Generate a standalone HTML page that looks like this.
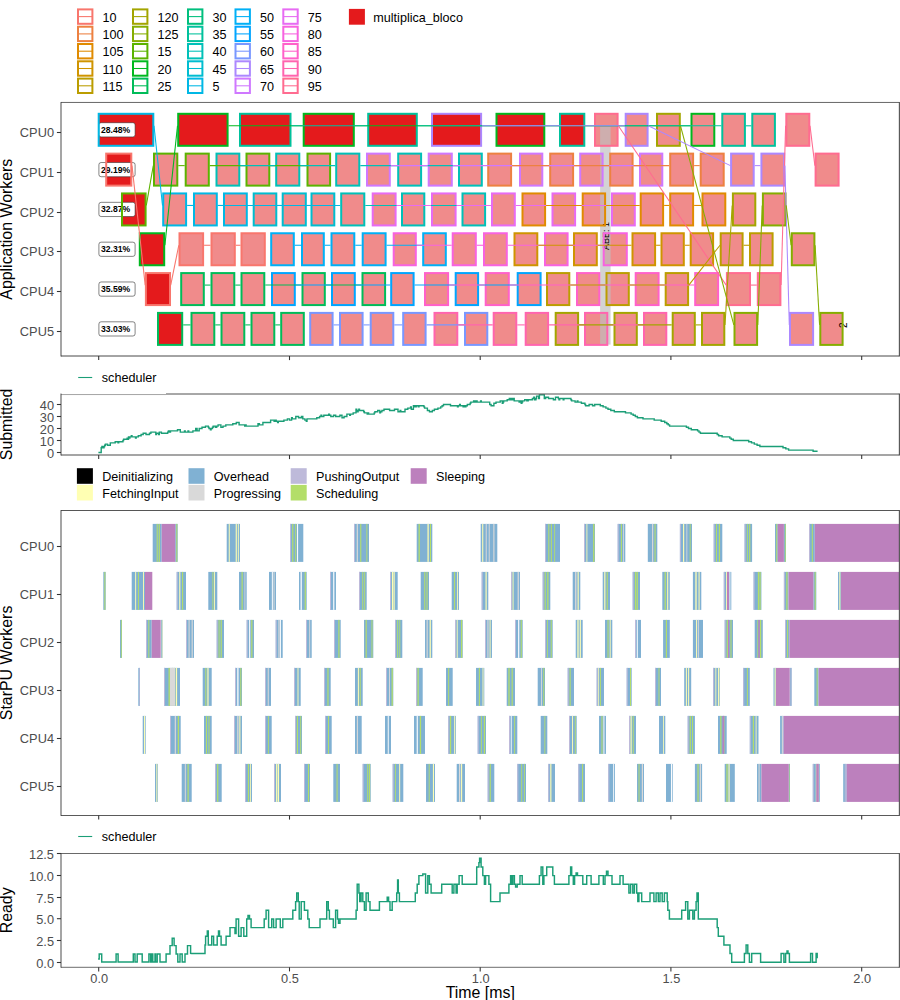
<!DOCTYPE html>
<html><head><meta charset="utf-8"><style>
html,body{margin:0;padding:0;background:#fff;width:900px;height:1000px;overflow:hidden;}
svg{display:block;}
text{font-family:"Liberation Sans",sans-serif;}
</style></head><body>
<svg width="900" height="1000" viewBox="0 0 900 1000" font-family="Liberation Sans, sans-serif">
<rect width="900" height="1000" fill="#fff"/>
<rect x="78.00" y="9.40" width="14.40" height="14.40" fill="#fff" stroke="#F8766D" stroke-width="2"/>
<line x1="78.00" y1="16.60" x2="92.40" y2="16.60" stroke="#F8766D" stroke-width="1.07"/>
<text x="102.4" y="21.7" font-size="12.6" fill="#000">10</text>
<rect x="78.00" y="26.70" width="14.40" height="14.40" fill="#fff" stroke="#ED8141" stroke-width="2"/>
<line x1="78.00" y1="33.90" x2="92.40" y2="33.90" stroke="#ED8141" stroke-width="1.07"/>
<text x="102.4" y="39.0" font-size="12.6" fill="#000">100</text>
<rect x="78.00" y="44.00" width="14.40" height="14.40" fill="#fff" stroke="#E08B00" stroke-width="2"/>
<line x1="78.00" y1="51.20" x2="92.40" y2="51.20" stroke="#E08B00" stroke-width="1.07"/>
<text x="102.4" y="56.3" font-size="12.6" fill="#000">105</text>
<rect x="78.00" y="61.30" width="14.40" height="14.40" fill="#fff" stroke="#CF9400" stroke-width="2"/>
<line x1="78.00" y1="68.50" x2="92.40" y2="68.50" stroke="#CF9400" stroke-width="1.07"/>
<text x="102.4" y="73.6" font-size="12.6" fill="#000">110</text>
<rect x="78.00" y="78.60" width="14.40" height="14.40" fill="#fff" stroke="#BB9D00" stroke-width="2"/>
<line x1="78.00" y1="85.80" x2="92.40" y2="85.80" stroke="#BB9D00" stroke-width="1.07"/>
<text x="102.4" y="90.9" font-size="12.6" fill="#000">115</text>
<rect x="133.00" y="9.40" width="14.40" height="14.40" fill="#fff" stroke="#A3A500" stroke-width="2"/>
<line x1="133.00" y1="16.60" x2="147.40" y2="16.60" stroke="#A3A500" stroke-width="1.07"/>
<text x="157.4" y="21.7" font-size="12.6" fill="#000">120</text>
<rect x="133.00" y="26.70" width="14.40" height="14.40" fill="#fff" stroke="#85AD00" stroke-width="2"/>
<line x1="133.00" y1="33.90" x2="147.40" y2="33.90" stroke="#85AD00" stroke-width="1.07"/>
<text x="157.4" y="39.0" font-size="12.6" fill="#000">125</text>
<rect x="133.00" y="44.00" width="14.40" height="14.40" fill="#fff" stroke="#5BB300" stroke-width="2"/>
<line x1="133.00" y1="51.20" x2="147.40" y2="51.20" stroke="#5BB300" stroke-width="1.07"/>
<text x="157.4" y="56.3" font-size="12.6" fill="#000">15</text>
<rect x="133.00" y="61.30" width="14.40" height="14.40" fill="#fff" stroke="#00B81F" stroke-width="2"/>
<line x1="133.00" y1="68.50" x2="147.40" y2="68.50" stroke="#00B81F" stroke-width="1.07"/>
<text x="157.4" y="73.6" font-size="12.6" fill="#000">20</text>
<rect x="133.00" y="78.60" width="14.40" height="14.40" fill="#fff" stroke="#00BC59" stroke-width="2"/>
<line x1="133.00" y1="85.80" x2="147.40" y2="85.80" stroke="#00BC59" stroke-width="1.07"/>
<text x="157.4" y="90.9" font-size="12.6" fill="#000">25</text>
<rect x="188.00" y="9.40" width="14.40" height="14.40" fill="#fff" stroke="#00BF7D" stroke-width="2"/>
<line x1="188.00" y1="16.60" x2="202.40" y2="16.60" stroke="#00BF7D" stroke-width="1.07"/>
<text x="212.4" y="21.7" font-size="12.6" fill="#000">30</text>
<rect x="188.00" y="26.70" width="14.40" height="14.40" fill="#fff" stroke="#00C19C" stroke-width="2"/>
<line x1="188.00" y1="33.90" x2="202.40" y2="33.90" stroke="#00C19C" stroke-width="1.07"/>
<text x="212.4" y="39.0" font-size="12.6" fill="#000">35</text>
<rect x="188.00" y="44.00" width="14.40" height="14.40" fill="#fff" stroke="#00C0B8" stroke-width="2"/>
<line x1="188.00" y1="51.20" x2="202.40" y2="51.20" stroke="#00C0B8" stroke-width="1.07"/>
<text x="212.4" y="56.3" font-size="12.6" fill="#000">40</text>
<rect x="188.00" y="61.30" width="14.40" height="14.40" fill="#fff" stroke="#00BDD0" stroke-width="2"/>
<line x1="188.00" y1="68.50" x2="202.40" y2="68.50" stroke="#00BDD0" stroke-width="1.07"/>
<text x="212.4" y="73.6" font-size="12.6" fill="#000">45</text>
<rect x="188.00" y="78.60" width="14.40" height="14.40" fill="#fff" stroke="#00B8E5" stroke-width="2"/>
<line x1="188.00" y1="85.80" x2="202.40" y2="85.80" stroke="#00B8E5" stroke-width="1.07"/>
<text x="212.4" y="90.9" font-size="12.6" fill="#000">5</text>
<rect x="235.50" y="9.40" width="14.40" height="14.40" fill="#fff" stroke="#00B0F6" stroke-width="2"/>
<line x1="235.50" y1="16.60" x2="249.90" y2="16.60" stroke="#00B0F6" stroke-width="1.07"/>
<text x="259.9" y="21.7" font-size="12.6" fill="#000">50</text>
<rect x="235.50" y="26.70" width="14.40" height="14.40" fill="#fff" stroke="#00A5FF" stroke-width="2"/>
<line x1="235.50" y1="33.90" x2="249.90" y2="33.90" stroke="#00A5FF" stroke-width="1.07"/>
<text x="259.9" y="39.0" font-size="12.6" fill="#000">55</text>
<rect x="235.50" y="44.00" width="14.40" height="14.40" fill="#fff" stroke="#7997FF" stroke-width="2"/>
<line x1="235.50" y1="51.20" x2="249.90" y2="51.20" stroke="#7997FF" stroke-width="1.07"/>
<text x="259.9" y="56.3" font-size="12.6" fill="#000">60</text>
<rect x="235.50" y="61.30" width="14.40" height="14.40" fill="#fff" stroke="#AC88FF" stroke-width="2"/>
<line x1="235.50" y1="68.50" x2="249.90" y2="68.50" stroke="#AC88FF" stroke-width="1.07"/>
<text x="259.9" y="73.6" font-size="12.6" fill="#000">65</text>
<rect x="235.50" y="78.60" width="14.40" height="14.40" fill="#fff" stroke="#CF78FF" stroke-width="2"/>
<line x1="235.50" y1="85.80" x2="249.90" y2="85.80" stroke="#CF78FF" stroke-width="1.07"/>
<text x="259.9" y="90.9" font-size="12.6" fill="#000">70</text>
<rect x="283.30" y="9.40" width="14.40" height="14.40" fill="#fff" stroke="#E76BF3" stroke-width="2"/>
<line x1="283.30" y1="16.60" x2="297.70" y2="16.60" stroke="#E76BF3" stroke-width="1.07"/>
<text x="307.7" y="21.7" font-size="12.6" fill="#000">75</text>
<rect x="283.30" y="26.70" width="14.40" height="14.40" fill="#fff" stroke="#F763E0" stroke-width="2"/>
<line x1="283.30" y1="33.90" x2="297.70" y2="33.90" stroke="#F763E0" stroke-width="1.07"/>
<text x="307.7" y="39.0" font-size="12.6" fill="#000">80</text>
<rect x="283.30" y="44.00" width="14.40" height="14.40" fill="#fff" stroke="#FF61C9" stroke-width="2"/>
<line x1="283.30" y1="51.20" x2="297.70" y2="51.20" stroke="#FF61C9" stroke-width="1.07"/>
<text x="307.7" y="56.3" font-size="12.6" fill="#000">85</text>
<rect x="283.30" y="61.30" width="14.40" height="14.40" fill="#fff" stroke="#FF65AE" stroke-width="2"/>
<line x1="283.30" y1="68.50" x2="297.70" y2="68.50" stroke="#FF65AE" stroke-width="1.07"/>
<text x="307.7" y="73.6" font-size="12.6" fill="#000">90</text>
<rect x="283.30" y="78.60" width="14.40" height="14.40" fill="#fff" stroke="#FF6C90" stroke-width="2"/>
<line x1="283.30" y1="85.80" x2="297.70" y2="85.80" stroke="#FF6C90" stroke-width="1.07"/>
<text x="307.7" y="90.9" font-size="12.6" fill="#000">95</text>
<rect x="348.9" y="8.9" width="16" height="15.8" fill="#E41A1C"/>
<text x="373.3" y="21.7" font-size="12.6" fill="#000">multiplica_bloco</text>
<rect x="98.70" y="113.80" width="54.60" height="32.00" fill="#E41A1C"/>
<rect x="178.20" y="113.80" width="49.40" height="32.00" fill="#E41A1C"/>
<rect x="240.00" y="113.80" width="50.50" height="32.00" fill="#E41A1C"/>
<rect x="303.70" y="113.80" width="50.10" height="32.00" fill="#E41A1C"/>
<rect x="368.20" y="113.80" width="48.60" height="32.00" fill="#E41A1C"/>
<rect x="432.00" y="113.80" width="49.10" height="32.00" fill="#E41A1C"/>
<rect x="496.50" y="113.80" width="47.80" height="32.00" fill="#E41A1C"/>
<rect x="560.00" y="113.80" width="24.30" height="32.00" fill="#E41A1C"/>
<rect x="595.00" y="113.80" width="22.60" height="32.00" fill="#F08B8B"/>
<rect x="625.70" y="113.80" width="21.90" height="32.00" fill="#F08B8B"/>
<rect x="657.00" y="113.80" width="22.80" height="32.00" fill="#F08B8B"/>
<rect x="691.50" y="113.80" width="22.80" height="32.00" fill="#F08B8B"/>
<rect x="722.30" y="113.80" width="22.60" height="32.00" fill="#F08B8B"/>
<rect x="752.30" y="113.80" width="22.60" height="32.00" fill="#F08B8B"/>
<rect x="786.30" y="113.80" width="23.00" height="32.00" fill="#F08B8B"/>
<rect x="106.20" y="153.62" width="25.10" height="32.00" fill="#E41A1C"/>
<rect x="154.00" y="153.62" width="23.30" height="32.00" fill="#F08B8B"/>
<rect x="185.70" y="153.62" width="23.10" height="32.00" fill="#F08B8B"/>
<rect x="216.50" y="153.62" width="22.80" height="32.00" fill="#F08B8B"/>
<rect x="246.50" y="153.62" width="22.80" height="32.00" fill="#F08B8B"/>
<rect x="276.20" y="153.62" width="23.10" height="32.00" fill="#F08B8B"/>
<rect x="307.50" y="153.62" width="22.60" height="32.00" fill="#F08B8B"/>
<rect x="336.20" y="153.62" width="23.10" height="32.00" fill="#F08B8B"/>
<rect x="367.00" y="153.62" width="22.80" height="32.00" fill="#F08B8B"/>
<rect x="398.20" y="153.62" width="22.90" height="32.00" fill="#F08B8B"/>
<rect x="428.70" y="153.62" width="23.10" height="32.00" fill="#F08B8B"/>
<rect x="459.00" y="153.62" width="22.80" height="32.00" fill="#F08B8B"/>
<rect x="488.20" y="153.62" width="22.90" height="32.00" fill="#F08B8B"/>
<rect x="520.00" y="153.62" width="22.30" height="32.00" fill="#F08B8B"/>
<rect x="550.20" y="153.62" width="22.90" height="32.00" fill="#F08B8B"/>
<rect x="580.20" y="153.62" width="22.40" height="32.00" fill="#F08B8B"/>
<rect x="610.20" y="153.62" width="22.40" height="32.00" fill="#F08B8B"/>
<rect x="640.00" y="153.62" width="22.30" height="32.00" fill="#F08B8B"/>
<rect x="670.20" y="153.62" width="22.90" height="32.00" fill="#F08B8B"/>
<rect x="700.70" y="153.62" width="23.00" height="32.00" fill="#F08B8B"/>
<rect x="731.10" y="153.62" width="22.60" height="32.00" fill="#F08B8B"/>
<rect x="761.40" y="153.62" width="22.80" height="32.00" fill="#F08B8B"/>
<rect x="815.60" y="153.62" width="23.00" height="32.00" fill="#F08B8B"/>
<rect x="122.00" y="193.44" width="23.60" height="32.00" fill="#E41A1C"/>
<rect x="163.20" y="193.44" width="22.90" height="32.00" fill="#F08B8B"/>
<rect x="194.00" y="193.44" width="22.80" height="32.00" fill="#F08B8B"/>
<rect x="224.00" y="193.44" width="22.80" height="32.00" fill="#F08B8B"/>
<rect x="253.70" y="193.44" width="22.60" height="32.00" fill="#F08B8B"/>
<rect x="282.70" y="193.44" width="23.10" height="32.00" fill="#F08B8B"/>
<rect x="311.50" y="193.44" width="22.80" height="32.00" fill="#F08B8B"/>
<rect x="341.20" y="193.44" width="23.10" height="32.00" fill="#F08B8B"/>
<rect x="372.70" y="193.44" width="22.90" height="32.00" fill="#F08B8B"/>
<rect x="402.00" y="193.44" width="22.30" height="32.00" fill="#F08B8B"/>
<rect x="432.00" y="193.44" width="23.60" height="32.00" fill="#F08B8B"/>
<rect x="462.50" y="193.44" width="22.60" height="32.00" fill="#F08B8B"/>
<rect x="492.00" y="193.44" width="22.80" height="32.00" fill="#F08B8B"/>
<rect x="522.50" y="193.44" width="22.60" height="32.00" fill="#F08B8B"/>
<rect x="552.50" y="193.44" width="22.60" height="32.00" fill="#F08B8B"/>
<rect x="582.70" y="193.44" width="22.40" height="32.00" fill="#F08B8B"/>
<rect x="612.00" y="193.44" width="22.80" height="32.00" fill="#F08B8B"/>
<rect x="640.70" y="193.44" width="22.40" height="32.00" fill="#F08B8B"/>
<rect x="670.20" y="193.44" width="22.90" height="32.00" fill="#F08B8B"/>
<rect x="702.50" y="193.44" width="22.80" height="32.00" fill="#F08B8B"/>
<rect x="732.90" y="193.44" width="22.40" height="32.00" fill="#F08B8B"/>
<rect x="762.90" y="193.44" width="22.60" height="32.00" fill="#F08B8B"/>
<rect x="139.80" y="233.26" width="24.40" height="32.00" fill="#E41A1C"/>
<rect x="179.50" y="233.26" width="23.60" height="32.00" fill="#F08B8B"/>
<rect x="211.50" y="233.26" width="23.30" height="32.00" fill="#F08B8B"/>
<rect x="241.50" y="233.26" width="23.30" height="32.00" fill="#F08B8B"/>
<rect x="271.20" y="233.26" width="22.60" height="32.00" fill="#F08B8B"/>
<rect x="302.00" y="233.26" width="21.80" height="32.00" fill="#F08B8B"/>
<rect x="331.50" y="233.26" width="22.80" height="32.00" fill="#F08B8B"/>
<rect x="362.70" y="233.26" width="22.90" height="32.00" fill="#F08B8B"/>
<rect x="393.70" y="233.26" width="22.10" height="32.00" fill="#F08B8B"/>
<rect x="423.20" y="233.26" width="22.60" height="32.00" fill="#F08B8B"/>
<rect x="452.70" y="233.26" width="23.10" height="32.00" fill="#F08B8B"/>
<rect x="484.00" y="233.26" width="22.80" height="32.00" fill="#F08B8B"/>
<rect x="514.50" y="233.26" width="22.80" height="32.00" fill="#F08B8B"/>
<rect x="545.00" y="233.26" width="22.60" height="32.00" fill="#F08B8B"/>
<rect x="574.00" y="233.26" width="22.80" height="32.00" fill="#F08B8B"/>
<rect x="603.70" y="233.26" width="23.10" height="32.00" fill="#F08B8B"/>
<rect x="632.50" y="233.26" width="22.60" height="32.00" fill="#F08B8B"/>
<rect x="661.50" y="233.26" width="22.30" height="32.00" fill="#F08B8B"/>
<rect x="690.70" y="233.26" width="22.40" height="32.00" fill="#F08B8B"/>
<rect x="720.70" y="233.26" width="21.90" height="32.00" fill="#F08B8B"/>
<rect x="750.00" y="233.26" width="22.60" height="32.00" fill="#F08B8B"/>
<rect x="791.80" y="233.26" width="22.60" height="32.00" fill="#F08B8B"/>
<rect x="145.90" y="273.08" width="24.10" height="32.00" fill="#E41A1C"/>
<rect x="181.20" y="273.08" width="22.60" height="32.00" fill="#F08B8B"/>
<rect x="211.50" y="273.08" width="22.80" height="32.00" fill="#F08B8B"/>
<rect x="241.50" y="273.08" width="22.80" height="32.00" fill="#F08B8B"/>
<rect x="272.00" y="273.08" width="22.80" height="32.00" fill="#F08B8B"/>
<rect x="302.50" y="273.08" width="22.30" height="32.00" fill="#F08B8B"/>
<rect x="332.00" y="273.08" width="22.80" height="32.00" fill="#F08B8B"/>
<rect x="362.50" y="273.08" width="22.60" height="32.00" fill="#F08B8B"/>
<rect x="391.20" y="273.08" width="22.40" height="32.00" fill="#F08B8B"/>
<rect x="425.00" y="273.08" width="23.10" height="32.00" fill="#F08B8B"/>
<rect x="455.70" y="273.08" width="22.40" height="32.00" fill="#F08B8B"/>
<rect x="485.70" y="273.08" width="23.10" height="32.00" fill="#F08B8B"/>
<rect x="517.70" y="273.08" width="22.90" height="32.00" fill="#F08B8B"/>
<rect x="547.00" y="273.08" width="22.30" height="32.00" fill="#F08B8B"/>
<rect x="577.00" y="273.08" width="22.30" height="32.00" fill="#F08B8B"/>
<rect x="606.50" y="273.08" width="22.30" height="32.00" fill="#F08B8B"/>
<rect x="635.70" y="273.08" width="22.90" height="32.00" fill="#F08B8B"/>
<rect x="665.70" y="273.08" width="22.40" height="32.00" fill="#F08B8B"/>
<rect x="695.20" y="273.08" width="22.90" height="32.00" fill="#F08B8B"/>
<rect x="726.90" y="273.08" width="23.10" height="32.00" fill="#F08B8B"/>
<rect x="757.80" y="273.08" width="22.60" height="32.00" fill="#F08B8B"/>
<rect x="158.00" y="312.90" width="24.20" height="32.00" fill="#E41A1C"/>
<rect x="191.50" y="312.90" width="22.80" height="32.00" fill="#F08B8B"/>
<rect x="221.50" y="312.90" width="22.80" height="32.00" fill="#F08B8B"/>
<rect x="251.50" y="312.90" width="22.80" height="32.00" fill="#F08B8B"/>
<rect x="281.20" y="312.90" width="22.60" height="32.00" fill="#F08B8B"/>
<rect x="310.20" y="312.90" width="22.40" height="32.00" fill="#F08B8B"/>
<rect x="340.00" y="312.90" width="22.60" height="32.00" fill="#F08B8B"/>
<rect x="370.70" y="312.90" width="22.60" height="32.00" fill="#F08B8B"/>
<rect x="403.20" y="312.90" width="22.40" height="32.00" fill="#F08B8B"/>
<rect x="434.50" y="312.90" width="22.80" height="32.00" fill="#F08B8B"/>
<rect x="465.00" y="312.90" width="22.30" height="32.00" fill="#F08B8B"/>
<rect x="493.70" y="312.90" width="22.60" height="32.00" fill="#F08B8B"/>
<rect x="525.70" y="312.90" width="22.40" height="32.00" fill="#F08B8B"/>
<rect x="555.70" y="312.90" width="22.40" height="32.00" fill="#F08B8B"/>
<rect x="585.00" y="312.90" width="22.30" height="32.00" fill="#F08B8B"/>
<rect x="614.50" y="312.90" width="22.30" height="32.00" fill="#F08B8B"/>
<rect x="644.00" y="312.90" width="22.30" height="32.00" fill="#F08B8B"/>
<rect x="672.70" y="312.90" width="22.10" height="32.00" fill="#F08B8B"/>
<rect x="702.00" y="312.90" width="22.30" height="32.00" fill="#F08B8B"/>
<rect x="734.50" y="312.90" width="22.60" height="32.00" fill="#F08B8B"/>
<rect x="790.00" y="312.90" width="23.10" height="32.00" fill="#F08B8B"/>
<rect x="820.30" y="312.90" width="22.30" height="32.00" fill="#F08B8B"/>
<rect x="600.1" y="126.9" width="10.5" height="217.7" fill="#BEBEBE" fill-opacity="0.68"/>
<text transform="translate(608.9,250) rotate(-90)" font-size="9" fill="#000">ABE: 1</text>
<text transform="translate(846.6,328) rotate(-90)" font-size="10" fill="#000">2</text>
<rect x="98.9" y="122.70" width="36.2" height="14.2" rx="2.2" ry="2.2" fill="#fff" stroke="#333" stroke-width="0.6"/>
<text x="101" y="132.80" font-size="8.6" font-weight="bold" fill="#000">28.48%</text>
<rect x="98.9" y="162.52" width="36.2" height="14.2" rx="2.2" ry="2.2" fill="#fff" stroke="#333" stroke-width="0.6"/>
<text x="101" y="172.62" font-size="8.6" font-weight="bold" fill="#000">29.19%</text>
<rect x="98.9" y="202.34" width="36.2" height="14.2" rx="2.2" ry="2.2" fill="#fff" stroke="#333" stroke-width="0.6"/>
<text x="101" y="212.44" font-size="8.6" font-weight="bold" fill="#000">32.87%</text>
<rect x="98.9" y="242.16" width="36.2" height="14.2" rx="2.2" ry="2.2" fill="#fff" stroke="#333" stroke-width="0.6"/>
<text x="101" y="252.26" font-size="8.6" font-weight="bold" fill="#000">32.31%</text>
<rect x="98.9" y="281.98" width="36.2" height="14.2" rx="2.2" ry="2.2" fill="#fff" stroke="#333" stroke-width="0.6"/>
<text x="101" y="292.08" font-size="8.6" font-weight="bold" fill="#000">35.59%</text>
<rect x="98.9" y="321.80" width="36.2" height="14.2" rx="2.2" ry="2.2" fill="#fff" stroke="#333" stroke-width="0.6"/>
<text x="101" y="331.90" font-size="8.6" font-weight="bold" fill="#000">33.03%</text>
<rect x="98.70" y="113.80" width="54.60" height="32.00" fill="none" stroke="#00B8E5" stroke-width="2"/>
<rect x="178.20" y="113.80" width="49.40" height="32.00" fill="none" stroke="#00B81F" stroke-width="2"/>
<rect x="240.00" y="113.80" width="50.50" height="32.00" fill="none" stroke="#00C19C" stroke-width="2"/>
<rect x="303.70" y="113.80" width="50.10" height="32.00" fill="none" stroke="#00B81F" stroke-width="2"/>
<rect x="368.20" y="113.80" width="48.60" height="32.00" fill="none" stroke="#00C19C" stroke-width="2"/>
<rect x="432.00" y="113.80" width="49.10" height="32.00" fill="none" stroke="#AC88FF" stroke-width="2"/>
<rect x="496.50" y="113.80" width="47.80" height="32.00" fill="none" stroke="#00B81F" stroke-width="2"/>
<rect x="560.00" y="113.80" width="24.30" height="32.00" fill="none" stroke="#00C19C" stroke-width="2"/>
<rect x="595.00" y="113.80" width="22.60" height="32.00" fill="none" stroke="#FF6C90" stroke-width="2"/>
<rect x="625.70" y="113.80" width="21.90" height="32.00" fill="none" stroke="#AC88FF" stroke-width="2"/>
<rect x="657.00" y="113.80" width="22.80" height="32.00" fill="none" stroke="#A3A500" stroke-width="2"/>
<rect x="691.50" y="113.80" width="22.80" height="32.00" fill="none" stroke="#00B81F" stroke-width="2"/>
<rect x="722.30" y="113.80" width="22.60" height="32.00" fill="none" stroke="#00C19C" stroke-width="2"/>
<rect x="752.30" y="113.80" width="22.60" height="32.00" fill="none" stroke="#00C19C" stroke-width="2"/>
<rect x="786.30" y="113.80" width="23.00" height="32.00" fill="none" stroke="#FF6C90" stroke-width="2"/>
<rect x="106.20" y="153.62" width="25.10" height="32.00" fill="none" stroke="#F8766D" stroke-width="2"/>
<rect x="154.00" y="153.62" width="23.30" height="32.00" fill="none" stroke="#5BB300" stroke-width="2"/>
<rect x="185.70" y="153.62" width="23.10" height="32.00" fill="none" stroke="#5BB300" stroke-width="2"/>
<rect x="216.50" y="153.62" width="22.80" height="32.00" fill="none" stroke="#00C0B8" stroke-width="2"/>
<rect x="246.50" y="153.62" width="22.80" height="32.00" fill="none" stroke="#5BB300" stroke-width="2"/>
<rect x="276.20" y="153.62" width="23.10" height="32.00" fill="none" stroke="#00C0B8" stroke-width="2"/>
<rect x="307.50" y="153.62" width="22.60" height="32.00" fill="none" stroke="#5BB300" stroke-width="2"/>
<rect x="336.20" y="153.62" width="23.10" height="32.00" fill="none" stroke="#00C0B8" stroke-width="2"/>
<rect x="367.00" y="153.62" width="22.80" height="32.00" fill="none" stroke="#CF78FF" stroke-width="2"/>
<rect x="398.20" y="153.62" width="22.90" height="32.00" fill="none" stroke="#00C0B8" stroke-width="2"/>
<rect x="428.70" y="153.62" width="23.10" height="32.00" fill="none" stroke="#CF78FF" stroke-width="2"/>
<rect x="459.00" y="153.62" width="22.80" height="32.00" fill="none" stroke="#00C0B8" stroke-width="2"/>
<rect x="488.20" y="153.62" width="22.90" height="32.00" fill="none" stroke="#ED8141" stroke-width="2"/>
<rect x="520.00" y="153.62" width="22.30" height="32.00" fill="none" stroke="#CF78FF" stroke-width="2"/>
<rect x="550.20" y="153.62" width="22.90" height="32.00" fill="none" stroke="#ED8141" stroke-width="2"/>
<rect x="580.20" y="153.62" width="22.40" height="32.00" fill="none" stroke="#CF78FF" stroke-width="2"/>
<rect x="610.20" y="153.62" width="22.40" height="32.00" fill="none" stroke="#ED8141" stroke-width="2"/>
<rect x="640.00" y="153.62" width="22.30" height="32.00" fill="none" stroke="#CF78FF" stroke-width="2"/>
<rect x="670.20" y="153.62" width="22.90" height="32.00" fill="none" stroke="#ED8141" stroke-width="2"/>
<rect x="700.70" y="153.62" width="23.00" height="32.00" fill="none" stroke="#ED8141" stroke-width="2"/>
<rect x="731.10" y="153.62" width="22.60" height="32.00" fill="none" stroke="#AC88FF" stroke-width="2"/>
<rect x="761.40" y="153.62" width="22.80" height="32.00" fill="none" stroke="#AC88FF" stroke-width="2"/>
<rect x="815.60" y="153.62" width="23.00" height="32.00" fill="none" stroke="#FF6C90" stroke-width="2"/>
<rect x="122.00" y="193.44" width="23.60" height="32.00" fill="none" stroke="#5BB300" stroke-width="2"/>
<rect x="163.20" y="193.44" width="22.90" height="32.00" fill="none" stroke="#00B8E5" stroke-width="2"/>
<rect x="194.00" y="193.44" width="22.80" height="32.00" fill="none" stroke="#00B8E5" stroke-width="2"/>
<rect x="224.00" y="193.44" width="22.80" height="32.00" fill="none" stroke="#00B8E5" stroke-width="2"/>
<rect x="253.70" y="193.44" width="22.60" height="32.00" fill="none" stroke="#00BDD0" stroke-width="2"/>
<rect x="282.70" y="193.44" width="23.10" height="32.00" fill="none" stroke="#00BDD0" stroke-width="2"/>
<rect x="311.50" y="193.44" width="22.80" height="32.00" fill="none" stroke="#00BDD0" stroke-width="2"/>
<rect x="341.20" y="193.44" width="23.10" height="32.00" fill="none" stroke="#00C0B8" stroke-width="2"/>
<rect x="372.70" y="193.44" width="22.90" height="32.00" fill="none" stroke="#E76BF3" stroke-width="2"/>
<rect x="402.00" y="193.44" width="22.30" height="32.00" fill="none" stroke="#00C0B8" stroke-width="2"/>
<rect x="432.00" y="193.44" width="23.60" height="32.00" fill="none" stroke="#E76BF3" stroke-width="2"/>
<rect x="462.50" y="193.44" width="22.60" height="32.00" fill="none" stroke="#00C0B8" stroke-width="2"/>
<rect x="492.00" y="193.44" width="22.80" height="32.00" fill="none" stroke="#E76BF3" stroke-width="2"/>
<rect x="522.50" y="193.44" width="22.60" height="32.00" fill="none" stroke="#E08B00" stroke-width="2"/>
<rect x="552.50" y="193.44" width="22.60" height="32.00" fill="none" stroke="#E76BF3" stroke-width="2"/>
<rect x="582.70" y="193.44" width="22.40" height="32.00" fill="none" stroke="#E08B00" stroke-width="2"/>
<rect x="612.00" y="193.44" width="22.80" height="32.00" fill="none" stroke="#E76BF3" stroke-width="2"/>
<rect x="640.70" y="193.44" width="22.40" height="32.00" fill="none" stroke="#E08B00" stroke-width="2"/>
<rect x="670.20" y="193.44" width="22.90" height="32.00" fill="none" stroke="#E08B00" stroke-width="2"/>
<rect x="702.50" y="193.44" width="22.80" height="32.00" fill="none" stroke="#E08B00" stroke-width="2"/>
<rect x="732.90" y="193.44" width="22.40" height="32.00" fill="none" stroke="#A3A500" stroke-width="2"/>
<rect x="762.90" y="193.44" width="22.60" height="32.00" fill="none" stroke="#85AD00" stroke-width="2"/>
<rect x="139.80" y="233.26" width="24.40" height="32.00" fill="none" stroke="#00B81F" stroke-width="2"/>
<rect x="179.50" y="233.26" width="23.60" height="32.00" fill="none" stroke="#F8766D" stroke-width="2"/>
<rect x="211.50" y="233.26" width="23.30" height="32.00" fill="none" stroke="#F8766D" stroke-width="2"/>
<rect x="241.50" y="233.26" width="23.30" height="32.00" fill="none" stroke="#F8766D" stroke-width="2"/>
<rect x="271.20" y="233.26" width="22.60" height="32.00" fill="none" stroke="#00B0F6" stroke-width="2"/>
<rect x="302.00" y="233.26" width="21.80" height="32.00" fill="none" stroke="#00B0F6" stroke-width="2"/>
<rect x="331.50" y="233.26" width="22.80" height="32.00" fill="none" stroke="#00B0F6" stroke-width="2"/>
<rect x="362.70" y="233.26" width="22.90" height="32.00" fill="none" stroke="#00B0F6" stroke-width="2"/>
<rect x="393.70" y="233.26" width="22.10" height="32.00" fill="none" stroke="#F763E0" stroke-width="2"/>
<rect x="423.20" y="233.26" width="22.60" height="32.00" fill="none" stroke="#00B0F6" stroke-width="2"/>
<rect x="452.70" y="233.26" width="23.10" height="32.00" fill="none" stroke="#F763E0" stroke-width="2"/>
<rect x="484.00" y="233.26" width="22.80" height="32.00" fill="none" stroke="#F763E0" stroke-width="2"/>
<rect x="514.50" y="233.26" width="22.80" height="32.00" fill="none" stroke="#CF9400" stroke-width="2"/>
<rect x="545.00" y="233.26" width="22.60" height="32.00" fill="none" stroke="#F763E0" stroke-width="2"/>
<rect x="574.00" y="233.26" width="22.80" height="32.00" fill="none" stroke="#CF9400" stroke-width="2"/>
<rect x="603.70" y="233.26" width="23.10" height="32.00" fill="none" stroke="#F763E0" stroke-width="2"/>
<rect x="632.50" y="233.26" width="22.60" height="32.00" fill="none" stroke="#CF9400" stroke-width="2"/>
<rect x="661.50" y="233.26" width="22.30" height="32.00" fill="none" stroke="#CF9400" stroke-width="2"/>
<rect x="690.70" y="233.26" width="22.40" height="32.00" fill="none" stroke="#CF9400" stroke-width="2"/>
<rect x="720.70" y="233.26" width="21.90" height="32.00" fill="none" stroke="#BB9D00" stroke-width="2"/>
<rect x="750.00" y="233.26" width="22.60" height="32.00" fill="none" stroke="#BB9D00" stroke-width="2"/>
<rect x="791.80" y="233.26" width="22.60" height="32.00" fill="none" stroke="#85AD00" stroke-width="2"/>
<rect x="145.90" y="273.08" width="24.10" height="32.00" fill="none" stroke="#F8766D" stroke-width="2"/>
<rect x="181.20" y="273.08" width="22.60" height="32.00" fill="none" stroke="#00BC59" stroke-width="2"/>
<rect x="211.50" y="273.08" width="22.80" height="32.00" fill="none" stroke="#00BC59" stroke-width="2"/>
<rect x="241.50" y="273.08" width="22.80" height="32.00" fill="none" stroke="#00BC59" stroke-width="2"/>
<rect x="272.00" y="273.08" width="22.80" height="32.00" fill="none" stroke="#00A5FF" stroke-width="2"/>
<rect x="302.50" y="273.08" width="22.30" height="32.00" fill="none" stroke="#00BC59" stroke-width="2"/>
<rect x="332.00" y="273.08" width="22.80" height="32.00" fill="none" stroke="#00A5FF" stroke-width="2"/>
<rect x="362.50" y="273.08" width="22.60" height="32.00" fill="none" stroke="#00BC59" stroke-width="2"/>
<rect x="391.20" y="273.08" width="22.40" height="32.00" fill="none" stroke="#00A5FF" stroke-width="2"/>
<rect x="425.00" y="273.08" width="23.10" height="32.00" fill="none" stroke="#FF61C9" stroke-width="2"/>
<rect x="455.70" y="273.08" width="22.40" height="32.00" fill="none" stroke="#00A5FF" stroke-width="2"/>
<rect x="485.70" y="273.08" width="23.10" height="32.00" fill="none" stroke="#FF61C9" stroke-width="2"/>
<rect x="517.70" y="273.08" width="22.90" height="32.00" fill="none" stroke="#00A5FF" stroke-width="2"/>
<rect x="547.00" y="273.08" width="22.30" height="32.00" fill="none" stroke="#BB9D00" stroke-width="2"/>
<rect x="577.00" y="273.08" width="22.30" height="32.00" fill="none" stroke="#FF61C9" stroke-width="2"/>
<rect x="606.50" y="273.08" width="22.30" height="32.00" fill="none" stroke="#BB9D00" stroke-width="2"/>
<rect x="635.70" y="273.08" width="22.90" height="32.00" fill="none" stroke="#FF61C9" stroke-width="2"/>
<rect x="665.70" y="273.08" width="22.40" height="32.00" fill="none" stroke="#BB9D00" stroke-width="2"/>
<rect x="695.20" y="273.08" width="22.90" height="32.00" fill="none" stroke="#FF61C9" stroke-width="2"/>
<rect x="726.90" y="273.08" width="23.10" height="32.00" fill="none" stroke="#FF6C90" stroke-width="2"/>
<rect x="757.80" y="273.08" width="22.60" height="32.00" fill="none" stroke="#FF6C90" stroke-width="2"/>
<rect x="158.00" y="312.90" width="24.20" height="32.00" fill="none" stroke="#00BC59" stroke-width="2"/>
<rect x="191.50" y="312.90" width="22.80" height="32.00" fill="none" stroke="#00BC59" stroke-width="2"/>
<rect x="221.50" y="312.90" width="22.80" height="32.00" fill="none" stroke="#00BC59" stroke-width="2"/>
<rect x="251.50" y="312.90" width="22.80" height="32.00" fill="none" stroke="#00BC59" stroke-width="2"/>
<rect x="281.20" y="312.90" width="22.60" height="32.00" fill="none" stroke="#00BC59" stroke-width="2"/>
<rect x="310.20" y="312.90" width="22.40" height="32.00" fill="none" stroke="#7997FF" stroke-width="2"/>
<rect x="340.00" y="312.90" width="22.60" height="32.00" fill="none" stroke="#7997FF" stroke-width="2"/>
<rect x="370.70" y="312.90" width="22.60" height="32.00" fill="none" stroke="#7997FF" stroke-width="2"/>
<rect x="403.20" y="312.90" width="22.40" height="32.00" fill="none" stroke="#7997FF" stroke-width="2"/>
<rect x="434.50" y="312.90" width="22.80" height="32.00" fill="none" stroke="#FF65AE" stroke-width="2"/>
<rect x="465.00" y="312.90" width="22.30" height="32.00" fill="none" stroke="#7997FF" stroke-width="2"/>
<rect x="493.70" y="312.90" width="22.60" height="32.00" fill="none" stroke="#FF65AE" stroke-width="2"/>
<rect x="525.70" y="312.90" width="22.40" height="32.00" fill="none" stroke="#FF65AE" stroke-width="2"/>
<rect x="555.70" y="312.90" width="22.40" height="32.00" fill="none" stroke="#A3A500" stroke-width="2"/>
<rect x="585.00" y="312.90" width="22.30" height="32.00" fill="none" stroke="#FF65AE" stroke-width="2"/>
<rect x="614.50" y="312.90" width="22.30" height="32.00" fill="none" stroke="#A3A500" stroke-width="2"/>
<rect x="644.00" y="312.90" width="22.30" height="32.00" fill="none" stroke="#FF65AE" stroke-width="2"/>
<rect x="672.70" y="312.90" width="22.10" height="32.00" fill="none" stroke="#A3A500" stroke-width="2"/>
<rect x="702.00" y="312.90" width="22.30" height="32.00" fill="none" stroke="#A3A500" stroke-width="2"/>
<rect x="734.50" y="312.90" width="22.60" height="32.00" fill="none" stroke="#85AD00" stroke-width="2"/>
<rect x="790.00" y="312.90" width="23.10" height="32.00" fill="none" stroke="#AC88FF" stroke-width="2"/>
<rect x="820.30" y="312.90" width="22.30" height="32.00" fill="none" stroke="#85AD00" stroke-width="2"/>
<line x1="228.60" y1="125.80" x2="302.70" y2="125.80" stroke="#00B81F" stroke-width="1.07"/>
<line x1="354.80" y1="125.80" x2="495.50" y2="125.80" stroke="#00B81F" stroke-width="1.07"/>
<line x1="545.30" y1="125.80" x2="690.50" y2="125.80" stroke="#00B81F" stroke-width="1.07"/>
<line x1="291.50" y1="125.80" x2="367.20" y2="125.80" stroke="#00C19C" stroke-width="1.07"/>
<line x1="417.80" y1="125.80" x2="559.00" y2="125.80" stroke="#00C19C" stroke-width="1.07"/>
<line x1="585.30" y1="125.80" x2="721.30" y2="125.80" stroke="#00C19C" stroke-width="1.07"/>
<line x1="745.90" y1="125.80" x2="751.30" y2="125.80" stroke="#00C19C" stroke-width="1.07"/>
<line x1="482.10" y1="125.80" x2="624.70" y2="125.80" stroke="#AC88FF" stroke-width="1.07"/>
<line x1="178.30" y1="165.62" x2="184.70" y2="165.62" stroke="#5BB300" stroke-width="1.07"/>
<line x1="209.80" y1="165.62" x2="245.50" y2="165.62" stroke="#5BB300" stroke-width="1.07"/>
<line x1="270.30" y1="165.62" x2="306.50" y2="165.62" stroke="#5BB300" stroke-width="1.07"/>
<line x1="240.30" y1="165.62" x2="275.20" y2="165.62" stroke="#00C0B8" stroke-width="1.07"/>
<line x1="300.30" y1="165.62" x2="335.20" y2="165.62" stroke="#00C0B8" stroke-width="1.07"/>
<line x1="360.30" y1="165.62" x2="397.20" y2="165.62" stroke="#00C0B8" stroke-width="1.07"/>
<line x1="422.10" y1="165.62" x2="458.00" y2="165.62" stroke="#00C0B8" stroke-width="1.07"/>
<line x1="390.80" y1="165.62" x2="427.70" y2="165.62" stroke="#CF78FF" stroke-width="1.07"/>
<line x1="452.80" y1="165.62" x2="519.00" y2="165.62" stroke="#CF78FF" stroke-width="1.07"/>
<line x1="543.30" y1="165.62" x2="579.20" y2="165.62" stroke="#CF78FF" stroke-width="1.07"/>
<line x1="603.60" y1="165.62" x2="639.00" y2="165.62" stroke="#CF78FF" stroke-width="1.07"/>
<line x1="512.10" y1="165.62" x2="549.20" y2="165.62" stroke="#ED8141" stroke-width="1.07"/>
<line x1="574.10" y1="165.62" x2="609.20" y2="165.62" stroke="#ED8141" stroke-width="1.07"/>
<line x1="633.60" y1="165.62" x2="669.20" y2="165.62" stroke="#ED8141" stroke-width="1.07"/>
<line x1="694.10" y1="165.62" x2="699.70" y2="165.62" stroke="#ED8141" stroke-width="1.07"/>
<line x1="754.70" y1="165.62" x2="760.40" y2="165.62" stroke="#AC88FF" stroke-width="1.07"/>
<line x1="187.10" y1="205.44" x2="193.00" y2="205.44" stroke="#00B8E5" stroke-width="1.07"/>
<line x1="217.80" y1="205.44" x2="223.00" y2="205.44" stroke="#00B8E5" stroke-width="1.07"/>
<line x1="277.30" y1="205.44" x2="281.70" y2="205.44" stroke="#00BDD0" stroke-width="1.07"/>
<line x1="306.80" y1="205.44" x2="310.50" y2="205.44" stroke="#00BDD0" stroke-width="1.07"/>
<line x1="365.30" y1="205.44" x2="401.00" y2="205.44" stroke="#00C0B8" stroke-width="1.07"/>
<line x1="425.30" y1="205.44" x2="461.50" y2="205.44" stroke="#00C0B8" stroke-width="1.07"/>
<line x1="396.60" y1="205.44" x2="431.00" y2="205.44" stroke="#E76BF3" stroke-width="1.07"/>
<line x1="456.60" y1="205.44" x2="491.00" y2="205.44" stroke="#E76BF3" stroke-width="1.07"/>
<line x1="515.80" y1="205.44" x2="551.50" y2="205.44" stroke="#E76BF3" stroke-width="1.07"/>
<line x1="576.10" y1="205.44" x2="611.00" y2="205.44" stroke="#E76BF3" stroke-width="1.07"/>
<line x1="546.10" y1="205.44" x2="581.70" y2="205.44" stroke="#E08B00" stroke-width="1.07"/>
<line x1="606.10" y1="205.44" x2="639.70" y2="205.44" stroke="#E08B00" stroke-width="1.07"/>
<line x1="664.10" y1="205.44" x2="669.20" y2="205.44" stroke="#E08B00" stroke-width="1.07"/>
<line x1="694.10" y1="205.44" x2="701.50" y2="205.44" stroke="#E08B00" stroke-width="1.07"/>
<line x1="204.10" y1="245.26" x2="210.50" y2="245.26" stroke="#F8766D" stroke-width="1.07"/>
<line x1="235.80" y1="245.26" x2="240.50" y2="245.26" stroke="#F8766D" stroke-width="1.07"/>
<line x1="294.80" y1="245.26" x2="301.00" y2="245.26" stroke="#00B0F6" stroke-width="1.07"/>
<line x1="324.80" y1="245.26" x2="330.50" y2="245.26" stroke="#00B0F6" stroke-width="1.07"/>
<line x1="355.30" y1="245.26" x2="361.70" y2="245.26" stroke="#00B0F6" stroke-width="1.07"/>
<line x1="386.60" y1="245.26" x2="422.20" y2="245.26" stroke="#00B0F6" stroke-width="1.07"/>
<line x1="416.80" y1="245.26" x2="451.70" y2="245.26" stroke="#F763E0" stroke-width="1.07"/>
<line x1="476.80" y1="245.26" x2="483.00" y2="245.26" stroke="#F763E0" stroke-width="1.07"/>
<line x1="507.80" y1="245.26" x2="544.00" y2="245.26" stroke="#F763E0" stroke-width="1.07"/>
<line x1="568.60" y1="245.26" x2="602.70" y2="245.26" stroke="#F763E0" stroke-width="1.07"/>
<line x1="538.30" y1="245.26" x2="573.00" y2="245.26" stroke="#CF9400" stroke-width="1.07"/>
<line x1="597.80" y1="245.26" x2="631.50" y2="245.26" stroke="#CF9400" stroke-width="1.07"/>
<line x1="656.10" y1="245.26" x2="660.50" y2="245.26" stroke="#CF9400" stroke-width="1.07"/>
<line x1="684.80" y1="245.26" x2="689.70" y2="245.26" stroke="#CF9400" stroke-width="1.07"/>
<line x1="743.60" y1="245.26" x2="749.00" y2="245.26" stroke="#BB9D00" stroke-width="1.07"/>
<line x1="204.80" y1="285.08" x2="210.50" y2="285.08" stroke="#00BC59" stroke-width="1.07"/>
<line x1="235.30" y1="285.08" x2="240.50" y2="285.08" stroke="#00BC59" stroke-width="1.07"/>
<line x1="265.30" y1="285.08" x2="301.50" y2="285.08" stroke="#00BC59" stroke-width="1.07"/>
<line x1="325.80" y1="285.08" x2="361.50" y2="285.08" stroke="#00BC59" stroke-width="1.07"/>
<line x1="295.80" y1="285.08" x2="331.00" y2="285.08" stroke="#00A5FF" stroke-width="1.07"/>
<line x1="355.80" y1="285.08" x2="390.20" y2="285.08" stroke="#00A5FF" stroke-width="1.07"/>
<line x1="414.60" y1="285.08" x2="454.70" y2="285.08" stroke="#00A5FF" stroke-width="1.07"/>
<line x1="479.10" y1="285.08" x2="516.70" y2="285.08" stroke="#00A5FF" stroke-width="1.07"/>
<line x1="449.10" y1="285.08" x2="484.70" y2="285.08" stroke="#FF61C9" stroke-width="1.07"/>
<line x1="509.80" y1="285.08" x2="576.00" y2="285.08" stroke="#FF61C9" stroke-width="1.07"/>
<line x1="600.30" y1="285.08" x2="634.70" y2="285.08" stroke="#FF61C9" stroke-width="1.07"/>
<line x1="659.60" y1="285.08" x2="694.20" y2="285.08" stroke="#FF61C9" stroke-width="1.07"/>
<line x1="570.30" y1="285.08" x2="605.50" y2="285.08" stroke="#BB9D00" stroke-width="1.07"/>
<line x1="629.80" y1="285.08" x2="664.70" y2="285.08" stroke="#BB9D00" stroke-width="1.07"/>
<line x1="751.00" y1="285.08" x2="756.80" y2="285.08" stroke="#FF6C90" stroke-width="1.07"/>
<line x1="183.20" y1="324.90" x2="190.50" y2="324.90" stroke="#00BC59" stroke-width="1.07"/>
<line x1="215.30" y1="324.90" x2="220.50" y2="324.90" stroke="#00BC59" stroke-width="1.07"/>
<line x1="245.30" y1="324.90" x2="250.50" y2="324.90" stroke="#00BC59" stroke-width="1.07"/>
<line x1="275.30" y1="324.90" x2="280.20" y2="324.90" stroke="#00BC59" stroke-width="1.07"/>
<line x1="333.60" y1="324.90" x2="339.00" y2="324.90" stroke="#7997FF" stroke-width="1.07"/>
<line x1="363.60" y1="324.90" x2="369.70" y2="324.90" stroke="#7997FF" stroke-width="1.07"/>
<line x1="394.30" y1="324.90" x2="402.20" y2="324.90" stroke="#7997FF" stroke-width="1.07"/>
<line x1="426.60" y1="324.90" x2="464.00" y2="324.90" stroke="#7997FF" stroke-width="1.07"/>
<line x1="458.30" y1="324.90" x2="492.70" y2="324.90" stroke="#FF65AE" stroke-width="1.07"/>
<line x1="517.30" y1="324.90" x2="524.70" y2="324.90" stroke="#FF65AE" stroke-width="1.07"/>
<line x1="549.10" y1="324.90" x2="584.00" y2="324.90" stroke="#FF65AE" stroke-width="1.07"/>
<line x1="608.30" y1="324.90" x2="643.00" y2="324.90" stroke="#FF65AE" stroke-width="1.07"/>
<line x1="579.10" y1="324.90" x2="613.50" y2="324.90" stroke="#A3A500" stroke-width="1.07"/>
<line x1="637.80" y1="324.90" x2="671.70" y2="324.90" stroke="#A3A500" stroke-width="1.07"/>
<line x1="695.80" y1="324.90" x2="701.00" y2="324.90" stroke="#A3A500" stroke-width="1.07"/>
<line x1="154" y1="125.80" x2="162.5" y2="205.44" stroke="#00B8E5" stroke-width="1.07"/>
<line x1="177.5" y1="125.80" x2="164.9" y2="245.26" stroke="#00B81F" stroke-width="1.07"/>
<line x1="146.3" y1="205.44" x2="153.3" y2="165.62" stroke="#5BB300" stroke-width="1.07"/>
<line x1="132" y1="165.62" x2="145.2" y2="285.08" stroke="#F8766D" stroke-width="1.07"/>
<line x1="170.7" y1="285.08" x2="178.8" y2="245.26" stroke="#F8766D" stroke-width="1.07"/>
<line x1="618.3" y1="125.80" x2="726.2" y2="285.08" stroke="#FF6C90" stroke-width="1.07"/>
<line x1="680.5" y1="125.80" x2="733.8" y2="324.90" stroke="#85AD00" stroke-width="1.07"/>
<line x1="648.3" y1="125.80" x2="730.4" y2="165.62" stroke="#AC88FF" stroke-width="1.07"/>
<line x1="785.6" y1="125.80" x2="781.1" y2="285.08" stroke="#FF6C90" stroke-width="1.07"/>
<line x1="810" y1="125.80" x2="814.9" y2="165.62" stroke="#FF6C90" stroke-width="1.07"/>
<line x1="784.9" y1="165.62" x2="789.3" y2="324.90" stroke="#AC88FF" stroke-width="1.07"/>
<line x1="786.2" y1="205.44" x2="791.1" y2="245.26" stroke="#85AD00" stroke-width="1.07"/>
<line x1="815.1" y1="245.26" x2="819.6" y2="324.90" stroke="#85AD00" stroke-width="1.07"/>
<line x1="732.2" y1="205.44" x2="725" y2="324.90" stroke="#A3A500" stroke-width="1.07"/>
<line x1="762.2" y1="205.44" x2="757.8" y2="324.90" stroke="#85AD00" stroke-width="1.07"/>
<line x1="688.8" y1="285.08" x2="720" y2="245.26" stroke="#BB9D00" stroke-width="1.07"/>
<line x1="217.8" y1="205.44" x2="340.2" y2="205.44" stroke="#00B8E5" stroke-width="1.07"/>
<line x1="61.0" y1="102.08" x2="61.0" y2="356.45" stroke="#333333" stroke-width="0.88"/>
<line x1="899.35" y1="102.08" x2="899.35" y2="356.45" stroke="#333333" stroke-width="0.95"/>
<line x1="61.0" y1="102.45" x2="899.35" y2="102.45" stroke="#333333" stroke-width="0.75"/>
<line x1="61.0" y1="356.0" x2="899.35" y2="356.0" stroke="#333333" stroke-width="0.9"/>
<line x1="98.7" y1="356.0" x2="98.7" y2="360.1" stroke="#333333" stroke-width="1.07"/>
<line x1="289.5" y1="356.0" x2="289.5" y2="360.1" stroke="#333333" stroke-width="1.07"/>
<line x1="480.2" y1="356.0" x2="480.2" y2="360.1" stroke="#333333" stroke-width="1.07"/>
<line x1="670.9" y1="356.0" x2="670.9" y2="360.1" stroke="#333333" stroke-width="1.07"/>
<line x1="861.7" y1="356.0" x2="861.7" y2="360.1" stroke="#333333" stroke-width="1.07"/>
<line x1="56.9" y1="132.5" x2="61" y2="132.5" stroke="#333333" stroke-width="1.07"/>
<text x="54.0" y="137.1" font-size="12.8" fill="#4D4D4D" text-anchor="end">CPU0</text>
<line x1="56.9" y1="172.5" x2="61" y2="172.5" stroke="#333333" stroke-width="1.07"/>
<text x="54.0" y="177.1" font-size="12.8" fill="#4D4D4D" text-anchor="end">CPU1</text>
<line x1="56.9" y1="212.5" x2="61" y2="212.5" stroke="#333333" stroke-width="1.07"/>
<text x="54.0" y="217.1" font-size="12.8" fill="#4D4D4D" text-anchor="end">CPU2</text>
<line x1="56.9" y1="251.5" x2="61" y2="251.5" stroke="#333333" stroke-width="1.07"/>
<text x="54.0" y="256.1" font-size="12.8" fill="#4D4D4D" text-anchor="end">CPU3</text>
<line x1="56.9" y1="291.5" x2="61" y2="291.5" stroke="#333333" stroke-width="1.07"/>
<text x="54.0" y="296.1" font-size="12.8" fill="#4D4D4D" text-anchor="end">CPU4</text>
<line x1="56.9" y1="331.5" x2="61" y2="331.5" stroke="#333333" stroke-width="1.07"/>
<text x="54.0" y="336.1" font-size="12.8" fill="#4D4D4D" text-anchor="end">CPU5</text>
<text transform="translate(11.9,229.20000000000002) rotate(-90)" font-size="15.9" fill="#000" text-anchor="middle">Application Workers</text>
<line x1="78.2" y1="377.5" x2="92.2" y2="377.5" stroke="#1B9E77" stroke-width="1.1"/>
<text x="101.8" y="381.8" font-size="12.6" fill="#000">scheduler</text>
<path d="M98.4,452.5 101.2,452.5 101.2,447.7 101.9,447.7 101.9,446.5 102.6,446.5 102.6,447.7 104.0,447.7 104.0,446.5 104.7,446.5 104.7,445.3 105.4,445.3 105.4,444.1 107.5,444.1 107.5,445.3 110.3,445.3 110.3,442.9 115.2,442.9 115.2,441.7 118.0,441.7 118.0,442.9 118.7,442.9 118.7,441.7 122.9,441.7 122.9,440.5 123.6,440.5 123.6,439.3 127.1,439.3 127.1,438.1 127.8,438.1 127.8,439.3 128.5,439.3 128.5,436.9 129.2,436.9 129.2,438.1 129.9,438.1 129.9,436.9 131.3,436.9 131.3,435.7 132.0,435.7 132.0,436.9 135.5,436.9 135.5,438.1 136.2,438.1 136.2,436.9 138.3,436.9 138.3,435.7 141.1,435.7 141.1,434.5 143.2,434.5 143.2,433.3 146.0,433.3 146.0,434.5 149.5,434.5 149.5,433.3 150.9,433.3 150.9,432.1 155.8,432.1 155.8,434.5 156.5,434.5 156.5,433.3 158.6,433.3 158.6,434.5 159.3,434.5 159.3,432.1 161.4,432.1 161.4,433.3 167.7,433.3 167.7,432.1 168.4,432.1 168.4,430.9 169.8,430.9 169.8,432.1 170.5,432.1 170.5,430.9 177.5,430.9 177.5,429.7 180.3,429.7 180.3,432.1 184.5,432.1 184.5,430.9 185.2,430.9 185.2,432.1 188.0,432.1 188.0,430.9 188.7,430.9 188.7,432.1 192.9,432.1 192.9,430.9 195.7,430.9 195.7,428.5 197.1,428.5 197.1,430.9 199.2,430.9 199.2,428.5 202.0,428.5 202.0,427.3 205.5,427.3 205.5,426.1 208.3,426.1 208.3,427.3 209.0,427.3 209.0,428.5 210.4,428.5 210.4,429.7 211.1,429.7 211.1,428.5 212.5,428.5 212.5,427.3 213.2,427.3 213.2,426.1 215.3,426.1 215.3,427.3 216.7,427.3 216.7,426.1 218.1,426.1 218.1,424.9 220.9,424.9 220.9,427.3 223.0,427.3 223.0,426.1 225.8,426.1 225.8,424.9 232.8,424.9 232.8,423.7 236.3,423.7 236.3,422.5 239.1,422.5 239.1,424.9 244.7,424.9 244.7,426.1 245.4,426.1 245.4,424.9 246.1,424.9 246.1,426.1 258.0,426.1 258.0,423.7 259.4,423.7 259.4,424.9 262.9,424.9 262.9,422.5 270.6,422.5 270.6,420.1 274.1,420.1 274.1,421.3 274.8,421.3 274.8,420.1 276.2,420.1 276.2,421.3 277.6,421.3 277.6,422.5 278.3,422.5 278.3,421.3 283.9,421.3 283.9,420.1 287.4,420.1 287.4,418.9 289.5,418.9 289.5,420.1 291.6,420.1 291.6,417.7 292.3,417.7 292.3,418.9 295.8,418.9 295.8,416.5 298.6,416.5 298.6,417.7 301.4,417.7 301.4,416.5 302.8,416.5 302.8,418.9 304.9,418.9 304.9,420.1 306.3,420.1 306.3,421.3 307.0,421.3 307.0,418.9 316.8,418.9 316.8,417.7 319.6,417.7 319.6,416.5 321.0,416.5 321.0,415.3 321.7,415.3 321.7,416.5 323.8,416.5 323.8,415.3 328.7,415.3 328.7,414.1 329.4,414.1 329.4,415.3 330.8,415.3 330.8,416.5 333.6,416.5 333.6,415.3 335.7,415.3 335.7,416.5 339.9,416.5 339.9,415.3 342.0,415.3 342.0,417.7 344.1,417.7 344.1,416.5 346.9,416.5 346.9,414.1 349.7,414.1 349.7,415.3 350.4,415.3 350.4,414.1 353.2,414.1 353.2,412.9 356.0,412.9 356.0,409.3 356.7,409.3 356.7,411.7 358.1,411.7 358.1,410.5 358.8,410.5 358.8,409.3 359.5,409.3 359.5,410.5 363.7,410.5 363.7,411.7 364.4,411.7 364.4,412.9 367.2,412.9 367.2,414.1 367.9,414.1 367.9,412.9 368.6,412.9 368.6,414.1 374.2,414.1 374.2,412.9 374.9,412.9 374.9,411.7 377.7,411.7 377.7,410.5 379.8,410.5 379.8,412.9 380.5,412.9 380.5,411.7 381.9,411.7 381.9,410.5 384.0,410.5 384.0,409.3 389.6,409.3 389.6,410.5 394.5,410.5 394.5,409.3 398.0,409.3 398.0,411.7 400.1,411.7 400.1,410.5 400.8,410.5 400.8,411.7 405.0,411.7 405.0,409.3 407.8,409.3 407.8,408.1 410.6,408.1 410.6,406.9 411.3,406.9 411.3,409.3 413.4,409.3 413.4,405.7 414.8,405.7 414.8,406.9 416.2,406.9 416.2,405.7 418.3,405.7 418.3,406.9 419.0,406.9 419.0,405.7 423.9,405.7 423.9,406.9 424.6,406.9 424.6,408.1 427.4,408.1 427.4,410.5 429.5,410.5 429.5,411.7 432.3,411.7 432.3,410.5 434.4,410.5 434.4,409.3 437.9,409.3 437.9,408.1 440.7,408.1 440.7,406.9 442.1,406.9 442.1,405.7 443.5,405.7 443.5,404.5 450.5,404.5 450.5,405.7 457.5,405.7 457.5,406.9 458.2,406.9 458.2,405.7 459.6,405.7 459.6,404.5 460.3,404.5 460.3,405.7 463.1,405.7 463.1,406.9 463.8,406.9 463.8,405.7 465.2,405.7 465.2,406.9 465.9,406.9 465.9,405.7 467.3,405.7 467.3,404.5 470.1,404.5 470.1,403.3 470.8,403.3 470.8,402.1 473.6,402.1 473.6,400.9 475.0,400.9 475.0,402.1 476.4,402.1 476.4,400.9 477.1,400.9 477.1,402.1 480.6,402.1 480.6,400.9 481.3,400.9 481.3,402.1 489.7,402.1 489.7,404.5 491.1,404.5 491.1,405.7 493.9,405.7 493.9,403.3 496.0,403.3 496.0,402.1 500.2,402.1 500.2,400.9 502.3,400.9 502.3,403.3 503.0,403.3 503.0,402.1 503.7,402.1 503.7,400.9 507.2,400.9 507.2,399.7 509.3,399.7 509.3,398.5 510.7,398.5 510.7,399.7 511.4,399.7 511.4,398.5 512.1,398.5 512.1,399.7 513.5,399.7 513.5,398.5 514.2,398.5 514.2,400.9 519.1,400.9 519.1,402.1 519.8,402.1 519.8,400.9 521.2,400.9 521.2,403.3 521.9,403.3 521.9,402.1 522.6,402.1 522.6,400.9 524.7,400.9 524.7,399.7 526.8,399.7 526.8,400.9 528.2,400.9 528.2,399.7 532.4,399.7 532.4,398.5 533.8,398.5 533.8,397.3 534.5,397.3 534.5,399.7 535.9,399.7 535.9,398.5 536.6,398.5 536.6,396.1 538.7,396.1 538.7,398.5 539.4,398.5 539.4,394.9 544.3,394.9 544.3,398.5 545.7,398.5 545.7,397.3 548.5,397.3 548.5,398.5 553.4,398.5 553.4,399.7 555.5,399.7 555.5,397.3 558.3,397.3 558.3,398.5 559.0,398.5 559.0,399.7 559.7,399.7 559.7,398.5 563.2,398.5 563.2,399.7 563.9,399.7 563.9,398.5 570.9,398.5 570.9,399.7 571.6,399.7 571.6,400.9 575.1,400.9 575.1,402.1 577.2,402.1 577.2,400.9 577.9,400.9 577.9,402.1 581.4,402.1 581.4,403.3 584.9,403.3 584.9,404.5 585.6,404.5 585.6,405.7 589.1,405.7 589.1,404.5 592.6,404.5 592.6,405.7 594.7,405.7 594.7,404.5 600.3,404.5 600.3,405.7 603.1,405.7 603.1,406.9 605.9,406.9 605.9,408.1 608.0,408.1 608.0,409.3 610.8,409.3 610.8,410.5 614.3,410.5 614.3,411.7 625.5,411.7 625.5,412.9 631.1,412.9 631.1,414.1 633.2,414.1 633.2,415.3 635.3,415.3 635.3,416.5 637.4,416.5 637.4,417.7 643.0,417.7 643.0,418.9 654.2,418.9 654.2,420.1 661.2,420.1 661.2,421.3 664.7,421.3 664.7,422.5 666.8,422.5 666.8,423.7 668.2,423.7 668.2,424.9 669.6,424.9 669.6,426.1 686.4,426.1 686.4,427.3 688.5,427.3 688.5,428.5 691.3,428.5 691.3,429.7 697.6,429.7 697.6,430.9 699.0,430.9 699.0,432.1 700.4,432.1 700.4,433.3 717.2,433.3 717.2,434.5 718.6,434.5 718.6,435.7 722.1,435.7 722.1,436.9 729.8,436.9 729.8,438.1 731.2,438.1 731.2,439.3 733.3,439.3 733.3,440.5 748.7,440.5 748.7,441.7 751.5,441.7 751.5,442.9 754.3,442.9 754.3,444.1 757.1,444.1 757.1,445.3 759.9,445.3 759.9,446.5 783.0,446.5 783.0,447.7 785.8,447.7 785.8,448.9 788.6,448.9 788.6,450.1 813.1,450.1 813.1,451.3 817.6,451.3" fill="none" stroke="#1B9E77" stroke-width="1.4"/>
<line x1="61.0" y1="393.57" x2="61.0" y2="455.44" stroke="#333333" stroke-width="0.88"/>
<line x1="899.35" y1="393.57" x2="899.35" y2="455.44" stroke="#333333" stroke-width="0.95"/>
<line x1="61.0" y1="394.55" x2="166" y2="394.55" stroke="#333333" stroke-width="0.45"/>
<line x1="166" y1="394.0" x2="899.35" y2="394.0" stroke="#333333" stroke-width="0.86"/>
<line x1="61.0" y1="455.0" x2="899.35" y2="455.0" stroke="#333333" stroke-width="0.88"/>
<line x1="98.7" y1="455.0" x2="98.7" y2="459.1" stroke="#333333" stroke-width="1.07"/>
<line x1="289.5" y1="455.0" x2="289.5" y2="459.1" stroke="#333333" stroke-width="1.07"/>
<line x1="480.2" y1="455.0" x2="480.2" y2="459.1" stroke="#333333" stroke-width="1.07"/>
<line x1="670.9" y1="455.0" x2="670.9" y2="459.1" stroke="#333333" stroke-width="1.07"/>
<line x1="861.7" y1="455.0" x2="861.7" y2="459.1" stroke="#333333" stroke-width="1.07"/>
<line x1="56.9" y1="452.5" x2="61" y2="452.5" stroke="#333333" stroke-width="1.07"/>
<text x="54.0" y="458.4" font-size="12.8" fill="#4D4D4D" text-anchor="end">0</text>
<line x1="56.9" y1="440.5" x2="61" y2="440.5" stroke="#333333" stroke-width="1.07"/>
<text x="54.0" y="446.4" font-size="12.8" fill="#4D4D4D" text-anchor="end">10</text>
<line x1="56.9" y1="428.5" x2="61" y2="428.5" stroke="#333333" stroke-width="1.07"/>
<text x="54.0" y="434.4" font-size="12.8" fill="#4D4D4D" text-anchor="end">20</text>
<line x1="56.9" y1="416.5" x2="61" y2="416.5" stroke="#333333" stroke-width="1.07"/>
<text x="54.0" y="422.4" font-size="12.8" fill="#4D4D4D" text-anchor="end">30</text>
<line x1="56.9" y1="404.5" x2="61" y2="404.5" stroke="#333333" stroke-width="1.07"/>
<text x="54.0" y="410.4" font-size="12.8" fill="#4D4D4D" text-anchor="end">40</text>
<text transform="translate(11.9,424.4) rotate(-90)" font-size="15.9" fill="#000" text-anchor="middle">Submitted</text>
<rect x="76.9" y="468.2" width="16" height="15.6" fill="#000000"/>
<text x="102.2" y="480.8" font-size="12.6" fill="#000">Deinitializing</text>
<rect x="76.9" y="484.9" width="16" height="15.6" fill="#FFFFB3"/>
<text x="102.2" y="497.5" font-size="12.6" fill="#000">FetchingInput</text>
<rect x="188.5" y="468.2" width="16" height="15.6" fill="#80B1D3"/>
<text x="213.8" y="480.8" font-size="12.6" fill="#000">Overhead</text>
<rect x="188.5" y="484.9" width="16" height="15.6" fill="#D9D9D9"/>
<text x="213.8" y="497.5" font-size="12.6" fill="#000">Progressing</text>
<rect x="290.7" y="468.2" width="16" height="15.6" fill="#BEBADA"/>
<text x="316.0" y="480.8" font-size="12.6" fill="#000">PushingOutput</text>
<rect x="290.7" y="484.9" width="16" height="15.6" fill="#B3DE69"/>
<text x="316.0" y="497.5" font-size="12.6" fill="#000">Scheduling</text>
<rect x="410.7" y="468.2" width="16" height="15.6" fill="#BC80BD"/>
<text x="436.0" y="480.8" font-size="12.6" fill="#000">Sleeping</text>
<rect x="152.70" y="523.90" width="9.00" height="38.0" fill="#80B1D3"/>
<rect x="156.68" y="523.90" width="1.06" height="38.0" fill="#B3DE69"/>
<rect x="158.67" y="523.90" width="1.19" height="38.0" fill="#B3DE69"/>
<rect x="175.20" y="523.90" width="2.50" height="38.0" fill="#80B1D3"/>
<rect x="176.32" y="523.90" width="1.00" height="38.0" fill="#B3DE69"/>
<rect x="226.70" y="523.90" width="13.30" height="38.0" fill="#80B1D3"/>
<rect x="228.78" y="523.90" width="0.95" height="38.0" fill="#FFFFB3"/>
<rect x="235.71" y="523.90" width="1.10" height="38.0" fill="#FFFFB3"/>
<rect x="237.87" y="523.90" width="0.88" height="38.0" fill="#FFFFB3"/>
<rect x="290.00" y="523.90" width="13.30" height="38.0" fill="#80B1D3"/>
<rect x="290.00" y="523.90" width="1.0" height="38.0" fill="#BEBADA"/>
<rect x="292.17" y="523.90" width="1.22" height="38.0" fill="#B3DE69"/>
<rect x="295.27" y="523.90" width="0.92" height="38.0" fill="#B3DE69"/>
<rect x="297.05" y="523.90" width="1.04" height="38.0" fill="#FFFFFF"/>
<rect x="354.00" y="523.90" width="15.00" height="38.0" fill="#80B1D3"/>
<rect x="354.00" y="523.90" width="1.0" height="38.0" fill="#BEBADA"/>
<rect x="356.73" y="523.90" width="1.18" height="38.0" fill="#D9D9D9"/>
<rect x="360.21" y="523.90" width="1.07" height="38.0" fill="#B3DE69"/>
<rect x="366.42" y="523.90" width="0.89" height="38.0" fill="#B3DE69"/>
<rect x="416.70" y="523.90" width="15.60" height="38.0" fill="#80B1D3"/>
<rect x="418.56" y="523.90" width="1.27" height="38.0" fill="#B3DE69"/>
<rect x="427.47" y="523.90" width="1.25" height="38.0" fill="#FFFFB3"/>
<rect x="429.98" y="523.90" width="1.03" height="38.0" fill="#B3DE69"/>
<rect x="480.70" y="523.90" width="16.60" height="38.0" fill="#80B1D3"/>
<rect x="482.21" y="523.90" width="1.04" height="38.0" fill="#FFFFB3"/>
<rect x="485.73" y="523.90" width="0.99" height="38.0" fill="#D9D9D9"/>
<rect x="488.75" y="523.90" width="0.94" height="38.0" fill="#D9D9D9"/>
<rect x="493.30" y="523.90" width="1.16" height="38.0" fill="#D9D9D9"/>
<rect x="545.00" y="523.90" width="15.00" height="38.0" fill="#80B1D3"/>
<rect x="545.00" y="523.90" width="1.0" height="38.0" fill="#BEBADA"/>
<rect x="548.30" y="523.90" width="1.05" height="38.0" fill="#B3DE69"/>
<rect x="550.85" y="523.90" width="1.02" height="38.0" fill="#B3DE69"/>
<rect x="554.25" y="523.90" width="0.85" height="38.0" fill="#B3DE69"/>
<rect x="584.00" y="523.90" width="11.00" height="38.0" fill="#80B1D3"/>
<rect x="584.00" y="523.90" width="1.0" height="38.0" fill="#BEBADA"/>
<rect x="586.50" y="523.90" width="0.84" height="38.0" fill="#FFFFB3"/>
<rect x="593.10" y="523.90" width="1.30" height="38.0" fill="#B3DE69"/>
<rect x="617.70" y="523.90" width="7.60" height="38.0" fill="#80B1D3"/>
<rect x="617.70" y="523.90" width="1.0" height="38.0" fill="#BEBADA"/>
<rect x="620.88" y="523.90" width="1.05" height="38.0" fill="#B3DE69"/>
<rect x="623.10" y="523.90" width="0.84" height="38.0" fill="#D9D9D9"/>
<rect x="647.80" y="523.90" width="9.50" height="38.0" fill="#80B1D3"/>
<rect x="652.04" y="523.90" width="1.13" height="38.0" fill="#D9D9D9"/>
<rect x="654.51" y="523.90" width="1.06" height="38.0" fill="#B3DE69"/>
<rect x="679.90" y="523.90" width="12.10" height="38.0" fill="#80B1D3"/>
<rect x="679.90" y="523.90" width="1.0" height="38.0" fill="#BEBADA"/>
<rect x="683.06" y="523.90" width="1.11" height="38.0" fill="#FFFFB3"/>
<rect x="686.44" y="523.90" width="0.85" height="38.0" fill="#D9D9D9"/>
<rect x="689.72" y="523.90" width="0.85" height="38.0" fill="#B3DE69"/>
<rect x="713.70" y="523.90" width="8.60" height="38.0" fill="#80B1D3"/>
<rect x="713.70" y="523.90" width="1.0" height="38.0" fill="#BEBADA"/>
<rect x="715.98" y="523.90" width="0.99" height="38.0" fill="#B3DE69"/>
<rect x="718.82" y="523.90" width="1.21" height="38.0" fill="#B3DE69"/>
<rect x="744.60" y="523.90" width="7.50" height="38.0" fill="#80B1D3"/>
<rect x="744.60" y="523.90" width="1.0" height="38.0" fill="#BEBADA"/>
<rect x="746.92" y="523.90" width="0.87" height="38.0" fill="#B3DE69"/>
<rect x="749.12" y="523.90" width="1.17" height="38.0" fill="#B3DE69"/>
<rect x="775.00" y="523.90" width="2.80" height="38.0" fill="#80B1D3"/>
<rect x="776.26" y="523.90" width="1.00" height="38.0" fill="#B3DE69"/>
<rect x="783.90" y="523.90" width="2.10" height="38.0" fill="#80B1D3"/>
<rect x="784.85" y="523.90" width="0.84" height="38.0" fill="#B3DE69"/>
<rect x="809.00" y="523.90" width="5.80" height="38.0" fill="#80B1D3"/>
<rect x="809.00" y="523.90" width="1.0" height="38.0" fill="#BEBADA"/>
<rect x="811.80" y="523.90" width="1.02" height="38.0" fill="#B3DE69"/>
<rect x="161.70" y="523.90" width="13.50" height="38.0" fill="#BC80BD"/>
<rect x="777.80" y="523.90" width="6.10" height="38.0" fill="#BC80BD"/>
<rect x="814.80" y="523.90" width="84.20" height="38.0" fill="#BC80BD"/>
<rect x="103.30" y="571.90" width="2.40" height="38.0" fill="#80B1D3"/>
<rect x="104.38" y="571.90" width="0.96" height="38.0" fill="#B3DE69"/>
<rect x="131.70" y="571.90" width="13.30" height="38.0" fill="#80B1D3"/>
<rect x="135.19" y="571.90" width="0.91" height="38.0" fill="#FFFFB3"/>
<rect x="137.96" y="571.90" width="0.94" height="38.0" fill="#B3DE69"/>
<rect x="143.05" y="571.90" width="0.91" height="38.0" fill="#FFFFB3"/>
<rect x="176.70" y="571.90" width="9.30" height="38.0" fill="#80B1D3"/>
<rect x="176.70" y="571.90" width="1.0" height="38.0" fill="#BEBADA"/>
<rect x="179.25" y="571.90" width="1.10" height="38.0" fill="#FFFFB3"/>
<rect x="182.02" y="571.90" width="1.11" height="38.0" fill="#B3DE69"/>
<rect x="208.30" y="571.90" width="9.00" height="38.0" fill="#80B1D3"/>
<rect x="212.49" y="571.90" width="0.84" height="38.0" fill="#B3DE69"/>
<rect x="214.14" y="571.90" width="0.86" height="38.0" fill="#FFFFB3"/>
<rect x="239.00" y="571.90" width="7.70" height="38.0" fill="#80B1D3"/>
<rect x="241.55" y="571.90" width="1.16" height="38.0" fill="#B3DE69"/>
<rect x="244.51" y="571.90" width="0.81" height="38.0" fill="#D9D9D9"/>
<rect x="269.00" y="571.90" width="7.00" height="38.0" fill="#80B1D3"/>
<rect x="271.86" y="571.90" width="0.96" height="38.0" fill="#FFFFFF"/>
<rect x="273.58" y="571.90" width="0.97" height="38.0" fill="#D9D9D9"/>
<rect x="299.00" y="571.90" width="7.70" height="38.0" fill="#80B1D3"/>
<rect x="300.58" y="571.90" width="1.21" height="38.0" fill="#FFFFFF"/>
<rect x="304.65" y="571.90" width="1.20" height="38.0" fill="#B3DE69"/>
<rect x="330.00" y="571.90" width="6.00" height="38.0" fill="#80B1D3"/>
<rect x="330.00" y="571.90" width="1.0" height="38.0" fill="#BEBADA"/>
<rect x="333.19" y="571.90" width="1.13" height="38.0" fill="#FFFFFF"/>
<rect x="359.00" y="571.90" width="7.70" height="38.0" fill="#80B1D3"/>
<rect x="359.00" y="571.90" width="1.0" height="38.0" fill="#BEBADA"/>
<rect x="362.27" y="571.90" width="0.90" height="38.0" fill="#B3DE69"/>
<rect x="364.25" y="571.90" width="0.91" height="38.0" fill="#B3DE69"/>
<rect x="390.00" y="571.90" width="7.70" height="38.0" fill="#80B1D3"/>
<rect x="390.00" y="571.90" width="1.0" height="38.0" fill="#BEBADA"/>
<rect x="391.97" y="571.90" width="1.28" height="38.0" fill="#FFFFB3"/>
<rect x="393.61" y="571.90" width="1.06" height="38.0" fill="#FFFFB3"/>
<rect x="420.70" y="571.90" width="8.30" height="38.0" fill="#80B1D3"/>
<rect x="424.22" y="571.90" width="1.04" height="38.0" fill="#B3DE69"/>
<rect x="426.47" y="571.90" width="1.07" height="38.0" fill="#B3DE69"/>
<rect x="451.70" y="571.90" width="7.30" height="38.0" fill="#80B1D3"/>
<rect x="454.09" y="571.90" width="1.00" height="38.0" fill="#B3DE69"/>
<rect x="457.16" y="571.90" width="0.88" height="38.0" fill="#FFFFB3"/>
<rect x="481.70" y="571.90" width="6.60" height="38.0" fill="#80B1D3"/>
<rect x="481.70" y="571.90" width="1.0" height="38.0" fill="#BEBADA"/>
<rect x="485.53" y="571.90" width="1.15" height="38.0" fill="#FFFFB3"/>
<rect x="511.00" y="571.90" width="9.00" height="38.0" fill="#80B1D3"/>
<rect x="511.00" y="571.90" width="1.0" height="38.0" fill="#BEBADA"/>
<rect x="512.61" y="571.90" width="0.92" height="38.0" fill="#FFFFB3"/>
<rect x="517.62" y="571.90" width="1.23" height="38.0" fill="#D9D9D9"/>
<rect x="542.70" y="571.90" width="7.60" height="38.0" fill="#80B1D3"/>
<rect x="542.70" y="571.90" width="1.0" height="38.0" fill="#BEBADA"/>
<rect x="544.64" y="571.90" width="1.11" height="38.0" fill="#B3DE69"/>
<rect x="547.20" y="571.90" width="1.29" height="38.0" fill="#B3DE69"/>
<rect x="572.70" y="571.90" width="7.60" height="38.0" fill="#80B1D3"/>
<rect x="575.09" y="571.90" width="1.30" height="38.0" fill="#D9D9D9"/>
<rect x="577.59" y="571.90" width="1.12" height="38.0" fill="#FFFFB3"/>
<rect x="602.70" y="571.90" width="7.30" height="38.0" fill="#80B1D3"/>
<rect x="604.24" y="571.90" width="1.17" height="38.0" fill="#FFFFB3"/>
<rect x="606.72" y="571.90" width="1.04" height="38.0" fill="#B3DE69"/>
<rect x="632.70" y="571.90" width="7.30" height="38.0" fill="#80B1D3"/>
<rect x="632.70" y="571.90" width="1.0" height="38.0" fill="#BEBADA"/>
<rect x="634.89" y="571.90" width="1.21" height="38.0" fill="#B3DE69"/>
<rect x="636.58" y="571.90" width="1.29" height="38.0" fill="#B3DE69"/>
<rect x="662.30" y="571.90" width="7.50" height="38.0" fill="#80B1D3"/>
<rect x="664.60" y="571.90" width="1.24" height="38.0" fill="#B3DE69"/>
<rect x="667.18" y="571.90" width="1.05" height="38.0" fill="#FFFFB3"/>
<rect x="692.90" y="571.90" width="8.40" height="38.0" fill="#80B1D3"/>
<rect x="695.35" y="571.90" width="1.29" height="38.0" fill="#FFFFB3"/>
<rect x="698.56" y="571.90" width="1.02" height="38.0" fill="#FFFFB3"/>
<rect x="723.80" y="571.90" width="7.50" height="38.0" fill="#80B1D3"/>
<rect x="723.80" y="571.90" width="1.0" height="38.0" fill="#BEBADA"/>
<rect x="726.13" y="571.90" width="1.09" height="38.0" fill="#FFFFB3"/>
<rect x="729.49" y="571.90" width="0.85" height="38.0" fill="#FFFFFF"/>
<rect x="753.60" y="571.90" width="7.80" height="38.0" fill="#80B1D3"/>
<rect x="753.60" y="571.90" width="1.0" height="38.0" fill="#BEBADA"/>
<rect x="757.84" y="571.90" width="1.22" height="38.0" fill="#B3DE69"/>
<rect x="759.51" y="571.90" width="1.14" height="38.0" fill="#B3DE69"/>
<rect x="783.90" y="571.90" width="4.60" height="38.0" fill="#80B1D3"/>
<rect x="783.90" y="571.90" width="1.0" height="38.0" fill="#BEBADA"/>
<rect x="786.30" y="571.90" width="1.27" height="38.0" fill="#B3DE69"/>
<rect x="813.40" y="571.90" width="2.90" height="38.0" fill="#80B1D3"/>
<rect x="814.70" y="571.90" width="1.00" height="38.0" fill="#B3DE69"/>
<rect x="838.00" y="571.90" width="3.00" height="38.0" fill="#80B1D3"/>
<rect x="839.35" y="571.90" width="1.00" height="38.0" fill="#FFFFB3"/>
<rect x="145.00" y="571.90" width="7.30" height="38.0" fill="#BC80BD"/>
<rect x="788.50" y="571.90" width="24.90" height="38.0" fill="#BC80BD"/>
<rect x="841.00" y="571.90" width="58.00" height="38.0" fill="#BC80BD"/>
<rect x="120.00" y="619.90" width="2.00" height="38.0" fill="#80B1D3"/>
<rect x="120.90" y="619.90" width="0.80" height="38.0" fill="#B3DE69"/>
<rect x="146.00" y="619.90" width="5.70" height="38.0" fill="#80B1D3"/>
<rect x="146.00" y="619.90" width="1.0" height="38.0" fill="#BEBADA"/>
<rect x="148.35" y="619.90" width="0.94" height="38.0" fill="#B3DE69"/>
<rect x="161.00" y="619.90" width="1.70" height="38.0" fill="#80B1D3"/>
<rect x="161.76" y="619.90" width="0.68" height="38.0" fill="#FFFFB3"/>
<rect x="186.00" y="619.90" width="8.00" height="38.0" fill="#80B1D3"/>
<rect x="186.00" y="619.90" width="1.0" height="38.0" fill="#BEBADA"/>
<rect x="188.54" y="619.90" width="1.10" height="38.0" fill="#D9D9D9"/>
<rect x="191.63" y="619.90" width="1.11" height="38.0" fill="#D9D9D9"/>
<rect x="216.70" y="619.90" width="7.30" height="38.0" fill="#80B1D3"/>
<rect x="216.70" y="619.90" width="1.0" height="38.0" fill="#BEBADA"/>
<rect x="218.56" y="619.90" width="1.04" height="38.0" fill="#B3DE69"/>
<rect x="220.65" y="619.90" width="1.15" height="38.0" fill="#B3DE69"/>
<rect x="246.70" y="619.90" width="7.30" height="38.0" fill="#80B1D3"/>
<rect x="246.70" y="619.90" width="1.0" height="38.0" fill="#BEBADA"/>
<rect x="249.15" y="619.90" width="1.06" height="38.0" fill="#FFFFFF"/>
<rect x="251.24" y="619.90" width="1.17" height="38.0" fill="#B3DE69"/>
<rect x="275.70" y="619.90" width="7.00" height="38.0" fill="#80B1D3"/>
<rect x="275.70" y="619.90" width="1.0" height="38.0" fill="#BEBADA"/>
<rect x="278.39" y="619.90" width="1.25" height="38.0" fill="#D9D9D9"/>
<rect x="280.07" y="619.90" width="0.89" height="38.0" fill="#FFFFFF"/>
<rect x="306.00" y="619.90" width="5.70" height="38.0" fill="#80B1D3"/>
<rect x="306.00" y="619.90" width="1.0" height="38.0" fill="#BEBADA"/>
<rect x="309.24" y="619.90" width="0.91" height="38.0" fill="#D9D9D9"/>
<rect x="334.00" y="619.90" width="6.70" height="38.0" fill="#80B1D3"/>
<rect x="334.00" y="619.90" width="1.0" height="38.0" fill="#BEBADA"/>
<rect x="338.31" y="619.90" width="1.20" height="38.0" fill="#B3DE69"/>
<rect x="364.00" y="619.90" width="9.30" height="38.0" fill="#80B1D3"/>
<rect x="365.64" y="619.90" width="1.12" height="38.0" fill="#B3DE69"/>
<rect x="371.49" y="619.90" width="0.98" height="38.0" fill="#B3DE69"/>
<rect x="395.00" y="619.90" width="7.30" height="38.0" fill="#80B1D3"/>
<rect x="395.00" y="619.90" width="1.0" height="38.0" fill="#BEBADA"/>
<rect x="397.21" y="619.90" width="0.95" height="38.0" fill="#B3DE69"/>
<rect x="399.36" y="619.90" width="0.87" height="38.0" fill="#B3DE69"/>
<rect x="425.00" y="619.90" width="7.30" height="38.0" fill="#80B1D3"/>
<rect x="426.59" y="619.90" width="1.12" height="38.0" fill="#D9D9D9"/>
<rect x="429.61" y="619.90" width="1.22" height="38.0" fill="#FFFFB3"/>
<rect x="455.00" y="619.90" width="7.70" height="38.0" fill="#80B1D3"/>
<rect x="455.00" y="619.90" width="1.0" height="38.0" fill="#BEBADA"/>
<rect x="456.77" y="619.90" width="0.88" height="38.0" fill="#FFFFB3"/>
<rect x="461.02" y="619.90" width="1.21" height="38.0" fill="#B3DE69"/>
<rect x="485.00" y="619.90" width="7.00" height="38.0" fill="#80B1D3"/>
<rect x="485.00" y="619.90" width="1.0" height="38.0" fill="#BEBADA"/>
<rect x="487.36" y="619.90" width="1.14" height="38.0" fill="#D9D9D9"/>
<rect x="489.60" y="619.90" width="0.95" height="38.0" fill="#FFFFB3"/>
<rect x="515.00" y="619.90" width="7.70" height="38.0" fill="#80B1D3"/>
<rect x="515.00" y="619.90" width="1.0" height="38.0" fill="#BEBADA"/>
<rect x="518.13" y="619.90" width="1.14" height="38.0" fill="#FFFFFF"/>
<rect x="520.71" y="619.90" width="1.07" height="38.0" fill="#B3DE69"/>
<rect x="545.00" y="619.90" width="7.70" height="38.0" fill="#80B1D3"/>
<rect x="545.00" y="619.90" width="1.0" height="38.0" fill="#BEBADA"/>
<rect x="546.96" y="619.90" width="0.84" height="38.0" fill="#B3DE69"/>
<rect x="550.73" y="619.90" width="0.99" height="38.0" fill="#B3DE69"/>
<rect x="575.70" y="619.90" width="7.00" height="38.0" fill="#80B1D3"/>
<rect x="577.35" y="619.90" width="1.28" height="38.0" fill="#FFFFB3"/>
<rect x="579.70" y="619.90" width="1.15" height="38.0" fill="#FFFFB3"/>
<rect x="605.00" y="619.90" width="7.30" height="38.0" fill="#80B1D3"/>
<rect x="607.49" y="619.90" width="1.09" height="38.0" fill="#B3DE69"/>
<rect x="609.73" y="619.90" width="0.91" height="38.0" fill="#FFFFB3"/>
<rect x="635.00" y="619.90" width="6.00" height="38.0" fill="#80B1D3"/>
<rect x="635.00" y="619.90" width="1.0" height="38.0" fill="#BEBADA"/>
<rect x="636.82" y="619.90" width="0.97" height="38.0" fill="#FFFFFF"/>
<rect x="663.10" y="619.90" width="6.70" height="38.0" fill="#80B1D3"/>
<rect x="665.82" y="619.90" width="1.16" height="38.0" fill="#B3DE69"/>
<rect x="692.90" y="619.90" width="10.10" height="38.0" fill="#80B1D3"/>
<rect x="696.03" y="619.90" width="0.92" height="38.0" fill="#FFFFB3"/>
<rect x="697.83" y="619.90" width="1.00" height="38.0" fill="#D9D9D9"/>
<rect x="724.70" y="619.90" width="8.30" height="38.0" fill="#80B1D3"/>
<rect x="724.70" y="619.90" width="1.0" height="38.0" fill="#BEBADA"/>
<rect x="726.69" y="619.90" width="1.18" height="38.0" fill="#B3DE69"/>
<rect x="730.47" y="619.90" width="1.03" height="38.0" fill="#B3DE69"/>
<rect x="754.70" y="619.90" width="8.10" height="38.0" fill="#80B1D3"/>
<rect x="757.38" y="619.90" width="0.84" height="38.0" fill="#B3DE69"/>
<rect x="759.90" y="619.90" width="1.27" height="38.0" fill="#B3DE69"/>
<rect x="785.00" y="619.90" width="4.40" height="38.0" fill="#80B1D3"/>
<rect x="785.00" y="619.90" width="1.0" height="38.0" fill="#BEBADA"/>
<rect x="787.07" y="619.90" width="1.07" height="38.0" fill="#B3DE69"/>
<rect x="151.70" y="619.90" width="9.00" height="38.0" fill="#BC80BD"/>
<rect x="789.40" y="619.90" width="109.60" height="38.0" fill="#BC80BD"/>
<rect x="138.30" y="667.90" width="1.70" height="38.0" fill="#80B1D3"/>
<rect x="139.06" y="667.90" width="0.68" height="38.0" fill="#BEBADA"/>
<rect x="164.00" y="667.90" width="16.00" height="38.0" fill="#80B1D3"/>
<rect x="164.00" y="667.90" width="1.0" height="38.0" fill="#BEBADA"/>
<rect x="168.54" y="667.90" width="1.29" height="38.0" fill="#B3DE69"/>
<rect x="171.86" y="667.90" width="1.28" height="38.0" fill="#B3DE69"/>
<rect x="174.12" y="667.90" width="1.02" height="38.0" fill="#B3DE69"/>
<rect x="175.81" y="667.90" width="1.28" height="38.0" fill="#FFFFB3"/>
<rect x="202.70" y="667.90" width="9.00" height="38.0" fill="#80B1D3"/>
<rect x="205.32" y="667.90" width="1.00" height="38.0" fill="#B3DE69"/>
<rect x="207.38" y="667.90" width="1.19" height="38.0" fill="#FFFFB3"/>
<rect x="235.00" y="667.90" width="7.00" height="38.0" fill="#80B1D3"/>
<rect x="235.00" y="667.90" width="1.0" height="38.0" fill="#BEBADA"/>
<rect x="237.26" y="667.90" width="1.27" height="38.0" fill="#FFFFFF"/>
<rect x="240.28" y="667.90" width="1.06" height="38.0" fill="#B3DE69"/>
<rect x="265.00" y="667.90" width="6.00" height="38.0" fill="#80B1D3"/>
<rect x="265.00" y="667.90" width="1.0" height="38.0" fill="#BEBADA"/>
<rect x="267.74" y="667.90" width="1.03" height="38.0" fill="#D9D9D9"/>
<rect x="294.00" y="667.90" width="6.70" height="38.0" fill="#80B1D3"/>
<rect x="294.00" y="667.90" width="1.0" height="38.0" fill="#BEBADA"/>
<rect x="297.54" y="667.90" width="0.94" height="38.0" fill="#FFFFB3"/>
<rect x="324.00" y="667.90" width="6.70" height="38.0" fill="#80B1D3"/>
<rect x="324.00" y="667.90" width="1.0" height="38.0" fill="#BEBADA"/>
<rect x="327.39" y="667.90" width="1.18" height="38.0" fill="#B3DE69"/>
<rect x="355.00" y="667.90" width="7.70" height="38.0" fill="#80B1D3"/>
<rect x="357.88" y="667.90" width="1.01" height="38.0" fill="#FFFFB3"/>
<rect x="359.69" y="667.90" width="0.99" height="38.0" fill="#B3DE69"/>
<rect x="386.00" y="667.90" width="7.30" height="38.0" fill="#80B1D3"/>
<rect x="386.00" y="667.90" width="1.0" height="38.0" fill="#BEBADA"/>
<rect x="388.99" y="667.90" width="0.93" height="38.0" fill="#D9D9D9"/>
<rect x="391.56" y="667.90" width="1.23" height="38.0" fill="#B3DE69"/>
<rect x="416.00" y="667.90" width="6.70" height="38.0" fill="#80B1D3"/>
<rect x="416.00" y="667.90" width="1.0" height="38.0" fill="#BEBADA"/>
<rect x="417.50" y="667.90" width="1.25" height="38.0" fill="#B3DE69"/>
<rect x="446.00" y="667.90" width="6.70" height="38.0" fill="#80B1D3"/>
<rect x="448.18" y="667.90" width="0.94" height="38.0" fill="#B3DE69"/>
<rect x="476.00" y="667.90" width="8.30" height="38.0" fill="#80B1D3"/>
<rect x="478.84" y="667.90" width="1.08" height="38.0" fill="#B3DE69"/>
<rect x="482.55" y="667.90" width="0.91" height="38.0" fill="#FFFFB3"/>
<rect x="506.70" y="667.90" width="8.30" height="38.0" fill="#80B1D3"/>
<rect x="508.37" y="667.90" width="1.29" height="38.0" fill="#B3DE69"/>
<rect x="511.61" y="667.90" width="1.14" height="38.0" fill="#B3DE69"/>
<rect x="537.70" y="667.90" width="7.30" height="38.0" fill="#80B1D3"/>
<rect x="540.99" y="667.90" width="0.90" height="38.0" fill="#D9D9D9"/>
<rect x="543.27" y="667.90" width="0.97" height="38.0" fill="#B3DE69"/>
<rect x="567.70" y="667.90" width="6.30" height="38.0" fill="#80B1D3"/>
<rect x="567.70" y="667.90" width="1.0" height="38.0" fill="#BEBADA"/>
<rect x="569.56" y="667.90" width="1.11" height="38.0" fill="#B3DE69"/>
<rect x="596.70" y="667.90" width="7.30" height="38.0" fill="#80B1D3"/>
<rect x="596.70" y="667.90" width="1.0" height="38.0" fill="#BEBADA"/>
<rect x="598.26" y="667.90" width="0.82" height="38.0" fill="#FFFFB3"/>
<rect x="599.94" y="667.90" width="0.93" height="38.0" fill="#B3DE69"/>
<rect x="626.70" y="667.90" width="5.00" height="38.0" fill="#80B1D3"/>
<rect x="626.70" y="667.90" width="1.0" height="38.0" fill="#BEBADA"/>
<rect x="630.00" y="667.90" width="0.96" height="38.0" fill="#B3DE69"/>
<rect x="655.00" y="667.90" width="6.00" height="38.0" fill="#80B1D3"/>
<rect x="655.00" y="667.90" width="1.0" height="38.0" fill="#BEBADA"/>
<rect x="658.54" y="667.90" width="0.90" height="38.0" fill="#B3DE69"/>
<rect x="684.20" y="667.90" width="7.00" height="38.0" fill="#80B1D3"/>
<rect x="685.88" y="667.90" width="1.01" height="38.0" fill="#FFFFB3"/>
<rect x="688.13" y="667.90" width="0.99" height="38.0" fill="#FFFFB3"/>
<rect x="713.10" y="667.90" width="6.90" height="38.0" fill="#80B1D3"/>
<rect x="713.10" y="667.90" width="1.0" height="38.0" fill="#BEBADA"/>
<rect x="715.42" y="667.90" width="0.86" height="38.0" fill="#FFFFB3"/>
<rect x="718.09" y="667.90" width="1.26" height="38.0" fill="#FFFFB3"/>
<rect x="743.20" y="667.90" width="6.60" height="38.0" fill="#80B1D3"/>
<rect x="743.20" y="667.90" width="1.0" height="38.0" fill="#BEBADA"/>
<rect x="746.90" y="667.90" width="0.96" height="38.0" fill="#B3DE69"/>
<rect x="773.50" y="667.90" width="2.50" height="38.0" fill="#80B1D3"/>
<rect x="774.62" y="667.90" width="1.00" height="38.0" fill="#FFFFB3"/>
<rect x="789.70" y="667.90" width="2.00" height="38.0" fill="#80B1D3"/>
<rect x="790.60" y="667.90" width="0.80" height="38.0" fill="#BEBADA"/>
<rect x="814.30" y="667.90" width="4.30" height="38.0" fill="#80B1D3"/>
<rect x="816.67" y="667.90" width="0.95" height="38.0" fill="#B3DE69"/>
<rect x="776.00" y="667.90" width="13.70" height="38.0" fill="#BC80BD"/>
<rect x="818.60" y="667.90" width="80.40" height="38.0" fill="#BC80BD"/>
<rect x="142.70" y="715.90" width="3.00" height="38.0" fill="#80B1D3"/>
<rect x="144.05" y="715.90" width="1.00" height="38.0" fill="#FFFFB3"/>
<rect x="170.00" y="715.90" width="10.70" height="38.0" fill="#80B1D3"/>
<rect x="170.00" y="715.90" width="1.0" height="38.0" fill="#BEBADA"/>
<rect x="174.75" y="715.90" width="1.20" height="38.0" fill="#D9D9D9"/>
<rect x="177.76" y="715.90" width="1.28" height="38.0" fill="#B3DE69"/>
<rect x="204.00" y="715.90" width="7.70" height="38.0" fill="#80B1D3"/>
<rect x="205.95" y="715.90" width="1.07" height="38.0" fill="#B3DE69"/>
<rect x="208.45" y="715.90" width="1.00" height="38.0" fill="#B3DE69"/>
<rect x="234.00" y="715.90" width="8.00" height="38.0" fill="#80B1D3"/>
<rect x="234.00" y="715.90" width="1.0" height="38.0" fill="#BEBADA"/>
<rect x="237.18" y="715.90" width="1.30" height="38.0" fill="#D9D9D9"/>
<rect x="239.34" y="715.90" width="1.04" height="38.0" fill="#FFFFB3"/>
<rect x="265.00" y="715.90" width="6.70" height="38.0" fill="#80B1D3"/>
<rect x="265.00" y="715.90" width="1.0" height="38.0" fill="#BEBADA"/>
<rect x="267.96" y="715.90" width="0.85" height="38.0" fill="#B3DE69"/>
<rect x="295.00" y="715.90" width="7.00" height="38.0" fill="#80B1D3"/>
<rect x="295.00" y="715.90" width="1.0" height="38.0" fill="#BEBADA"/>
<rect x="296.89" y="715.90" width="1.10" height="38.0" fill="#B3DE69"/>
<rect x="300.27" y="715.90" width="0.90" height="38.0" fill="#B3DE69"/>
<rect x="325.00" y="715.90" width="6.70" height="38.0" fill="#80B1D3"/>
<rect x="325.00" y="715.90" width="1.0" height="38.0" fill="#BEBADA"/>
<rect x="328.00" y="715.90" width="0.95" height="38.0" fill="#B3DE69"/>
<rect x="355.00" y="715.90" width="6.70" height="38.0" fill="#80B1D3"/>
<rect x="356.87" y="715.90" width="1.07" height="38.0" fill="#D9D9D9"/>
<rect x="385.00" y="715.90" width="6.00" height="38.0" fill="#80B1D3"/>
<rect x="387.78" y="715.90" width="0.92" height="38.0" fill="#FFFFFF"/>
<rect x="414.00" y="715.90" width="11.00" height="38.0" fill="#80B1D3"/>
<rect x="416.69" y="715.90" width="1.12" height="38.0" fill="#FFFFFF"/>
<rect x="419.82" y="715.90" width="1.28" height="38.0" fill="#B3DE69"/>
<rect x="448.30" y="715.90" width="7.70" height="38.0" fill="#80B1D3"/>
<rect x="448.30" y="715.90" width="1.0" height="38.0" fill="#BEBADA"/>
<rect x="449.88" y="715.90" width="1.29" height="38.0" fill="#B3DE69"/>
<rect x="454.20" y="715.90" width="1.03" height="38.0" fill="#FFFFB3"/>
<rect x="477.70" y="715.90" width="8.30" height="38.0" fill="#80B1D3"/>
<rect x="477.70" y="715.90" width="1.0" height="38.0" fill="#BEBADA"/>
<rect x="480.90" y="715.90" width="0.90" height="38.0" fill="#B3DE69"/>
<rect x="483.85" y="715.90" width="1.26" height="38.0" fill="#B3DE69"/>
<rect x="509.00" y="715.90" width="8.30" height="38.0" fill="#80B1D3"/>
<rect x="509.00" y="715.90" width="1.0" height="38.0" fill="#BEBADA"/>
<rect x="510.80" y="715.90" width="0.86" height="38.0" fill="#FFFFFF"/>
<rect x="514.19" y="715.90" width="0.90" height="38.0" fill="#B3DE69"/>
<rect x="540.70" y="715.90" width="6.60" height="38.0" fill="#80B1D3"/>
<rect x="544.43" y="715.90" width="0.84" height="38.0" fill="#B3DE69"/>
<rect x="569.00" y="715.90" width="7.70" height="38.0" fill="#80B1D3"/>
<rect x="569.00" y="715.90" width="1.0" height="38.0" fill="#BEBADA"/>
<rect x="572.10" y="715.90" width="0.92" height="38.0" fill="#FFFFB3"/>
<rect x="574.84" y="715.90" width="0.83" height="38.0" fill="#B3DE69"/>
<rect x="599.00" y="715.90" width="7.00" height="38.0" fill="#80B1D3"/>
<rect x="601.46" y="715.90" width="1.07" height="38.0" fill="#B3DE69"/>
<rect x="603.48" y="715.90" width="0.89" height="38.0" fill="#FFFFFF"/>
<rect x="629.00" y="715.90" width="7.00" height="38.0" fill="#80B1D3"/>
<rect x="629.00" y="715.90" width="1.0" height="38.0" fill="#BEBADA"/>
<rect x="630.53" y="715.90" width="1.17" height="38.0" fill="#FFFFB3"/>
<rect x="632.76" y="715.90" width="0.96" height="38.0" fill="#B3DE69"/>
<rect x="659.00" y="715.90" width="6.30" height="38.0" fill="#80B1D3"/>
<rect x="663.06" y="715.90" width="0.82" height="38.0" fill="#FFFFB3"/>
<rect x="687.70" y="715.90" width="7.20" height="38.0" fill="#80B1D3"/>
<rect x="687.70" y="715.90" width="1.0" height="38.0" fill="#BEBADA"/>
<rect x="689.66" y="715.90" width="1.19" height="38.0" fill="#B3DE69"/>
<rect x="692.00" y="715.90" width="0.99" height="38.0" fill="#B3DE69"/>
<rect x="718.00" y="715.90" width="8.70" height="38.0" fill="#80B1D3"/>
<rect x="720.23" y="715.90" width="1.16" height="38.0" fill="#B3DE69"/>
<rect x="723.55" y="715.90" width="0.81" height="38.0" fill="#B3DE69"/>
<rect x="749.80" y="715.90" width="8.70" height="38.0" fill="#80B1D3"/>
<rect x="749.80" y="715.90" width="1.0" height="38.0" fill="#BEBADA"/>
<rect x="752.83" y="715.90" width="1.13" height="38.0" fill="#B3DE69"/>
<rect x="755.68" y="715.90" width="0.82" height="38.0" fill="#FFFFB3"/>
<rect x="780.10" y="715.90" width="3.50" height="38.0" fill="#80B1D3"/>
<rect x="781.84" y="715.90" width="1.05" height="38.0" fill="#D9D9D9"/>
<rect x="783.60" y="715.90" width="115.40" height="38.0" fill="#BC80BD"/>
<rect x="155.00" y="763.90" width="3.00" height="38.0" fill="#80B1D3"/>
<rect x="156.35" y="763.90" width="1.00" height="38.0" fill="#FFFFB3"/>
<rect x="181.70" y="763.90" width="10.00" height="38.0" fill="#80B1D3"/>
<rect x="184.86" y="763.90" width="0.97" height="38.0" fill="#D9D9D9"/>
<rect x="187.54" y="763.90" width="1.16" height="38.0" fill="#B3DE69"/>
<rect x="215.00" y="763.90" width="6.70" height="38.0" fill="#80B1D3"/>
<rect x="215.00" y="763.90" width="1.0" height="38.0" fill="#BEBADA"/>
<rect x="217.11" y="763.90" width="1.20" height="38.0" fill="#B3DE69"/>
<rect x="245.00" y="763.90" width="7.00" height="38.0" fill="#80B1D3"/>
<rect x="245.00" y="763.90" width="1.0" height="38.0" fill="#BEBADA"/>
<rect x="247.88" y="763.90" width="1.19" height="38.0" fill="#B3DE69"/>
<rect x="249.99" y="763.90" width="0.81" height="38.0" fill="#FFFFB3"/>
<rect x="274.00" y="763.90" width="7.00" height="38.0" fill="#80B1D3"/>
<rect x="274.00" y="763.90" width="1.0" height="38.0" fill="#BEBADA"/>
<rect x="276.09" y="763.90" width="1.14" height="38.0" fill="#FFFFB3"/>
<rect x="277.73" y="763.90" width="1.29" height="38.0" fill="#FFFFB3"/>
<rect x="304.00" y="763.90" width="6.00" height="38.0" fill="#80B1D3"/>
<rect x="304.00" y="763.90" width="1.0" height="38.0" fill="#BEBADA"/>
<rect x="307.95" y="763.90" width="1.15" height="38.0" fill="#B3DE69"/>
<rect x="333.30" y="763.90" width="6.70" height="38.0" fill="#80B1D3"/>
<rect x="336.57" y="763.90" width="1.01" height="38.0" fill="#B3DE69"/>
<rect x="362.70" y="763.90" width="8.00" height="38.0" fill="#80B1D3"/>
<rect x="362.70" y="763.90" width="1.0" height="38.0" fill="#BEBADA"/>
<rect x="367.23" y="763.90" width="0.92" height="38.0" fill="#B3DE69"/>
<rect x="368.84" y="763.90" width="1.27" height="38.0" fill="#B3DE69"/>
<rect x="392.70" y="763.90" width="10.60" height="38.0" fill="#80B1D3"/>
<rect x="392.70" y="763.90" width="1.0" height="38.0" fill="#BEBADA"/>
<rect x="394.96" y="763.90" width="0.84" height="38.0" fill="#B3DE69"/>
<rect x="399.18" y="763.90" width="0.98" height="38.0" fill="#FFFFB3"/>
<rect x="426.00" y="763.90" width="9.00" height="38.0" fill="#80B1D3"/>
<rect x="428.74" y="763.90" width="0.87" height="38.0" fill="#B3DE69"/>
<rect x="432.91" y="763.90" width="1.08" height="38.0" fill="#FFFFB3"/>
<rect x="456.70" y="763.90" width="8.30" height="38.0" fill="#80B1D3"/>
<rect x="459.01" y="763.90" width="1.25" height="38.0" fill="#D9D9D9"/>
<rect x="461.07" y="763.90" width="1.08" height="38.0" fill="#FFFFB3"/>
<rect x="487.70" y="763.90" width="6.60" height="38.0" fill="#80B1D3"/>
<rect x="487.70" y="763.90" width="1.0" height="38.0" fill="#BEBADA"/>
<rect x="489.63" y="763.90" width="1.17" height="38.0" fill="#B3DE69"/>
<rect x="517.30" y="763.90" width="8.70" height="38.0" fill="#80B1D3"/>
<rect x="517.30" y="763.90" width="1.0" height="38.0" fill="#BEBADA"/>
<rect x="521.26" y="763.90" width="0.88" height="38.0" fill="#B3DE69"/>
<rect x="523.99" y="763.90" width="0.80" height="38.0" fill="#B3DE69"/>
<rect x="548.30" y="763.90" width="6.70" height="38.0" fill="#80B1D3"/>
<rect x="548.30" y="763.90" width="1.0" height="38.0" fill="#BEBADA"/>
<rect x="550.27" y="763.90" width="1.13" height="38.0" fill="#FFFFB3"/>
<rect x="578.30" y="763.90" width="6.70" height="38.0" fill="#80B1D3"/>
<rect x="578.30" y="763.90" width="1.0" height="38.0" fill="#BEBADA"/>
<rect x="582.08" y="763.90" width="1.01" height="38.0" fill="#B3DE69"/>
<rect x="608.30" y="763.90" width="6.70" height="38.0" fill="#80B1D3"/>
<rect x="608.30" y="763.90" width="1.0" height="38.0" fill="#BEBADA"/>
<rect x="613.24" y="763.90" width="0.85" height="38.0" fill="#FFFFFF"/>
<rect x="637.00" y="763.90" width="7.00" height="38.0" fill="#80B1D3"/>
<rect x="638.56" y="763.90" width="0.94" height="38.0" fill="#B3DE69"/>
<rect x="641.81" y="763.90" width="1.20" height="38.0" fill="#D9D9D9"/>
<rect x="666.00" y="763.90" width="6.70" height="38.0" fill="#80B1D3"/>
<rect x="670.96" y="763.90" width="1.00" height="38.0" fill="#FFFFFF"/>
<rect x="694.90" y="763.90" width="7.20" height="38.0" fill="#80B1D3"/>
<rect x="697.45" y="763.90" width="1.20" height="38.0" fill="#B3DE69"/>
<rect x="699.78" y="763.90" width="1.16" height="38.0" fill="#D9D9D9"/>
<rect x="724.70" y="763.90" width="10.10" height="38.0" fill="#80B1D3"/>
<rect x="726.40" y="763.90" width="1.28" height="38.0" fill="#B3DE69"/>
<rect x="728.51" y="763.90" width="1.10" height="38.0" fill="#FFFFB3"/>
<rect x="757.00" y="763.90" width="4.40" height="38.0" fill="#80B1D3"/>
<rect x="758.58" y="763.90" width="1.00" height="38.0" fill="#D9D9D9"/>
<rect x="788.80" y="763.90" width="1.20" height="38.0" fill="#80B1D3"/>
<rect x="789.34" y="763.90" width="0.48" height="38.0" fill="#B3DE69"/>
<rect x="812.80" y="763.90" width="7.00" height="38.0" fill="#80B1D3"/>
<rect x="812.80" y="763.90" width="1.0" height="38.0" fill="#BEBADA"/>
<rect x="815.81" y="763.90" width="0.81" height="38.0" fill="#FFFFB3"/>
<rect x="817.64" y="763.90" width="1.07" height="38.0" fill="#FFFFB3"/>
<rect x="843.20" y="763.90" width="3.40" height="38.0" fill="#80B1D3"/>
<rect x="844.73" y="763.90" width="1.00" height="38.0" fill="#BEBADA"/>
<rect x="761.40" y="763.90" width="27.40" height="38.0" fill="#BC80BD"/>
<rect x="846.60" y="763.90" width="52.40" height="38.0" fill="#BC80BD"/>
<rect x="727" y="571.90" width="2.00" height="38.0" fill="#BC80BD"/>
<rect x="728" y="619.90" width="1.20" height="38.0" fill="#BC80BD"/>
<rect x="758.3" y="619.90" width="1.50" height="38.0" fill="#BC80BD"/>
<rect x="722.5" y="715.90" width="1.70" height="38.0" fill="#BC80BD"/>
<rect x="816.3" y="763.90" width="2.50" height="38.0" fill="#BC80BD"/>
<rect x="170" y="667.90" width="5" height="38.0" fill="#D9D9D9"/>
<line x1="61.0" y1="510.08" x2="61.0" y2="815.90" stroke="#333333" stroke-width="0.88"/>
<line x1="899.35" y1="510.08" x2="899.35" y2="815.90" stroke="#333333" stroke-width="0.95"/>
<line x1="61.0" y1="510.5" x2="899.35" y2="510.5" stroke="#333333" stroke-width="0.83"/>
<line x1="61.0" y1="815.5" x2="899.35" y2="815.5" stroke="#333333" stroke-width="0.81"/>
<line x1="98.7" y1="815.5" x2="98.7" y2="819.6" stroke="#333333" stroke-width="1.07"/>
<line x1="289.5" y1="815.5" x2="289.5" y2="819.6" stroke="#333333" stroke-width="1.07"/>
<line x1="480.2" y1="815.5" x2="480.2" y2="819.6" stroke="#333333" stroke-width="1.07"/>
<line x1="670.9" y1="815.5" x2="670.9" y2="819.6" stroke="#333333" stroke-width="1.07"/>
<line x1="861.7" y1="815.5" x2="861.7" y2="819.6" stroke="#333333" stroke-width="1.07"/>
<line x1="56.9" y1="546.5" x2="61" y2="546.5" stroke="#333333" stroke-width="1.07"/>
<text x="54.0" y="551.1" font-size="12.8" fill="#4D4D4D" text-anchor="end">CPU0</text>
<line x1="56.9" y1="594.5" x2="61" y2="594.5" stroke="#333333" stroke-width="1.07"/>
<text x="54.0" y="599.1" font-size="12.8" fill="#4D4D4D" text-anchor="end">CPU1</text>
<line x1="56.9" y1="642.5" x2="61" y2="642.5" stroke="#333333" stroke-width="1.07"/>
<text x="54.0" y="647.1" font-size="12.8" fill="#4D4D4D" text-anchor="end">CPU2</text>
<line x1="56.9" y1="690.5" x2="61" y2="690.5" stroke="#333333" stroke-width="1.07"/>
<text x="54.0" y="695.1" font-size="12.8" fill="#4D4D4D" text-anchor="end">CPU3</text>
<line x1="56.9" y1="738.5" x2="61" y2="738.5" stroke="#333333" stroke-width="1.07"/>
<text x="54.0" y="743.1" font-size="12.8" fill="#4D4D4D" text-anchor="end">CPU4</text>
<line x1="56.9" y1="786.5" x2="61" y2="786.5" stroke="#333333" stroke-width="1.07"/>
<text x="54.0" y="791.1" font-size="12.8" fill="#4D4D4D" text-anchor="end">CPU5</text>
<text transform="translate(11.9,662.9) rotate(-90)" font-size="15.9" fill="#000" text-anchor="middle">StarPU Workers</text>
<line x1="78.2" y1="836.5" x2="92.2" y2="836.5" stroke="#1B9E77" stroke-width="1.1"/>
<text x="101.8" y="840.8" font-size="12.6" fill="#000">scheduler</text>
<path d="M98.1,958.9 99.2,958.9 99.2,953.9 101.7,953.9 101.7,962.0 116.1,962.0 116.1,953.9 118.1,953.9 118.1,962.0 133.3,962.0 133.3,953.9 135.0,953.9 135.0,962.0 137.2,962.0 137.2,953.9 142.2,953.9 142.2,962.0 148.9,962.0 148.9,953.9 150.6,953.9 150.6,962.0 151.9,962.0 151.9,953.9 152.8,953.9 152.8,962.0 155.0,962.0 155.0,953.9 155.6,953.9 155.6,962.0 157.2,962.0 157.2,953.9 160.0,953.9 160.0,962.0 166.1,962.0 166.1,953.9 170.0,953.9 170.0,945.6 172.2,945.6 172.2,938.3 174.1,938.3 174.1,945.6 176.1,945.6 176.1,953.9 177.8,953.9 177.8,962.0 180.0,962.0 180.0,953.9 182.2,953.9 182.2,962.0 185.0,962.0 185.0,953.9 187.5,953.9 187.5,945.6 190.6,945.6 190.6,953.4 191.5,953.5 205.0,953.5 205.0,944.9 205.6,944.9 205.6,936.2 207.3,936.2 207.3,931.0 208.3,931.0 208.3,944.9 211.7,944.9 211.7,936.2 213.6,936.2 213.6,944.9 217.2,944.9 217.2,936.2 218.5,936.2 218.5,931.0 219.5,931.0 219.5,936.2 221.1,936.2 221.1,944.9 226.1,944.9 226.1,936.2 230.0,936.2 230.0,927.6 235.0,927.6 235.0,933.6 236.1,933.6 236.1,918.9 238.6,918.9 238.6,936.2 241.1,936.2 241.1,927.6 243.8,927.6 243.8,936.2 246.7,936.2 246.7,918.9 248.0,918.9 248.0,915.4 249.5,915.4 249.5,918.9 251.1,918.9 251.1,927.6 264.2,927.6 264.2,918.9 266.1,918.9 266.1,910.2 268.6,910.2 268.6,927.6 271.7,927.6 271.7,918.9 273.6,918.9 273.6,927.6 276.1,927.6 276.1,918.9 280.3,918.9 280.3,927.6 282.8,927.6 282.8,918.9 292.8,918.9 292.8,910.2 295.6,910.2 295.6,901.6 296.7,901.6 296.7,892.9 298.3,892.9 298.3,901.6 299.2,901.6 299.2,918.9 301.2,918.9 301.2,901.6 304.4,901.6 304.4,910.2 307.8,910.2 307.8,918.9 309.2,918.9 309.2,927.6 320.0,927.6 320.0,918.9 326.7,918.9 326.7,901.6 328.3,901.6 328.3,910.2 329.4,910.2 329.4,918.9 333.3,918.9 333.3,927.6 335.6,927.6 335.6,910.2 337.5,910.2 337.5,918.9 338.5,918.9 338.5,923.2 340.0,923.2 340.0,918.9 356.1,918.9 356.1,910.2 357.2,910.2 357.2,884.3 358.9,884.3 358.9,892.9 359.7,892.9 359.7,901.6 361.1,901.6 361.1,892.9 362.8,892.9 362.8,901.6 364.4,901.6 364.4,910.2 366.1,910.2 366.1,892.9 368.3,892.9 368.3,901.6 370.0,901.6 370.0,910.2 379.4,910.2 379.4,901.6 387.2,901.6 387.2,897.2 388.6,897.2 388.6,901.6 390.0,901.6 390.0,910.2 392.2,910.2 392.2,901.6 396.7,901.6 396.7,892.9 397.6,892.9 397.6,879.9 398.3,879.9 398.3,892.9 399.4,892.9 399.4,901.6 415.3,901.6 415.3,892.9 417.2,892.9 417.2,884.3 418.9,884.3 418.9,875.6 422.8,875.6 422.8,873.9 425.6,873.9 425.6,892.9 427.8,892.9 427.8,875.6 429.4,875.6 429.4,884.3 431.1,884.3 431.1,892.9 441.7,892.9 441.7,884.3 452.2,884.3 452.2,892.9 453.9,892.9 453.9,884.3 456.1,884.3 456.1,892.9 457.2,892.9 457.2,884.3 459.1,884.3 459.1,875.6 462.2,875.6 462.2,884.3 476.7,884.3 476.7,866.9 478.9,866.9 478.9,862.6 479.6,862.6 479.6,858.3 481.1,858.3 481.1,866.9 482.8,866.9 482.8,875.6 484.4,875.6 484.4,884.3 485.6,884.3 485.6,875.6 488.9,875.6 488.9,884.3 490.6,884.3 490.6,901.6 500.0,901.6 500.0,892.9 508.9,892.9 508.9,884.3 510.6,884.3 510.6,875.6 511.7,875.6 511.7,884.3 512.8,884.3 512.8,875.6 514.4,875.6 514.4,884.3 515.6,884.3 515.6,886.9 517.2,886.9 517.2,884.3 520.0,884.3 520.0,875.6 522.2,875.6 522.2,884.3 539.4,884.3 539.4,875.6 541.1,875.6 541.1,866.9 542.8,866.9 542.8,884.3 543.9,884.3 543.9,875.6 546.7,875.6 546.7,866.9 552.8,866.9 552.8,875.6 554.4,875.6 554.4,884.3 568.9,884.3 568.9,875.6 570.6,875.6 570.6,866.9 571.7,866.9 571.7,875.6 573.3,875.6 573.3,884.3 574.6,884.3 574.6,875.6 576.1,875.6 576.1,873.0 577.5,873.0 577.5,875.6 582.8,875.6 582.8,884.3 586.7,884.3 586.7,875.6 591.1,875.6 591.1,884.3 598.9,884.3 598.9,875.6 603.3,875.6 603.3,884.3 605.0,884.3 605.0,875.6 606.5,875.6 606.5,871.3 608.0,871.3 608.0,875.6 612.0,875.6 612.0,884.3 620.0,884.3 620.0,875.6 623.1,875.6 623.1,884.3 628.9,884.3 628.9,892.9 630.6,892.9 630.6,884.3 632.8,884.3 632.8,892.9 634.4,892.9 634.4,884.3 636.7,884.3 636.7,892.9 637.8,892.9 637.8,901.6 638.9,901.6 638.9,892.9 641.7,892.9 641.7,901.6 650.0,901.6 650.0,892.9 653.9,892.9 653.9,901.6 656.1,901.6 656.1,892.9 658.3,892.9 658.3,901.6 660.0,901.6 660.0,892.9 662.2,892.9 662.2,901.6 664.4,901.6 664.4,892.9 667.2,892.9 667.2,901.6 667.8,901.6 667.8,910.2 669.4,910.2 669.4,918.9 681.7,918.9 681.7,910.2 685.6,910.2 685.6,901.6 687.8,901.6 687.8,918.9 689.4,918.9 689.4,910.2 692.8,910.2 692.8,918.9 694.4,918.9 694.4,910.2 696.1,910.2 696.1,901.6 697.0,901.6 697.0,892.9 698.3,892.9 698.3,918.9 717.2,918.9 717.2,927.6 718.3,927.6 718.3,936.2 723.9,936.2 723.9,944.9 730.0,944.9 730.0,953.5 731.7,953.5 731.7,962.2 744.4,962.2 744.4,953.5 746.1,953.5 746.1,944.9 747.8,944.9 747.8,953.5 749.4,953.5 749.4,962.2 751.7,962.2 751.7,953.5 760.6,953.5 760.6,962.2 781.1,962.2 781.1,953.5 783.9,953.5 783.9,962.2 785.6,962.2 785.6,953.5 787.0,953.5 787.0,950.9 788.0,950.9 788.0,953.5 789.4,953.5 789.4,962.2 810.6,962.2 810.6,953.5 812.5,953.5 812.5,962.2 816.1,962.2 816.1,953.5 817.2,953.5 817.2,958.3" fill="none" stroke="#1B9E77" stroke-width="1.45"/>
<line x1="61.0" y1="853.13" x2="61.0" y2="967.66" stroke="#333333" stroke-width="0.88"/>
<line x1="899.35" y1="853.13" x2="899.35" y2="967.66" stroke="#333333" stroke-width="0.95"/>
<line x1="61.0" y1="853.5" x2="899.35" y2="853.5" stroke="#333333" stroke-width="0.74"/>
<line x1="61.0" y1="967.3" x2="899.35" y2="967.3" stroke="#333333" stroke-width="0.72"/>
<line x1="98.7" y1="967.3" x2="98.7" y2="971.4" stroke="#333333" stroke-width="1.07"/>
<line x1="289.5" y1="967.3" x2="289.5" y2="971.4" stroke="#333333" stroke-width="1.07"/>
<line x1="480.2" y1="967.3" x2="480.2" y2="971.4" stroke="#333333" stroke-width="1.07"/>
<line x1="670.9" y1="967.3" x2="670.9" y2="971.4" stroke="#333333" stroke-width="1.07"/>
<line x1="861.7" y1="967.3" x2="861.7" y2="971.4" stroke="#333333" stroke-width="1.07"/>
<text x="99.2" y="983.0" font-size="12.8" fill="#4D4D4D" text-anchor="middle">0.0</text>
<text x="290.0" y="983.0" font-size="12.8" fill="#4D4D4D" text-anchor="middle">0.5</text>
<text x="480.7" y="983.0" font-size="12.8" fill="#4D4D4D" text-anchor="middle">1.0</text>
<text x="671.4" y="983.0" font-size="12.8" fill="#4D4D4D" text-anchor="middle">1.5</text>
<text x="862.2" y="983.0" font-size="12.8" fill="#4D4D4D" text-anchor="middle">2.0</text>
<line x1="56.9" y1="962.5" x2="61" y2="962.5" stroke="#333333" stroke-width="1.07"/>
<text x="54.0" y="967.5" font-size="12.8" fill="#4D4D4D" text-anchor="end">0.0</text>
<line x1="56.9" y1="940.5" x2="61" y2="940.5" stroke="#333333" stroke-width="1.07"/>
<text x="54.0" y="945.5" font-size="12.8" fill="#4D4D4D" text-anchor="end">2.5</text>
<line x1="56.9" y1="918.7" x2="61" y2="918.7" stroke="#333333" stroke-width="1.07"/>
<text x="54.0" y="923.7" font-size="12.8" fill="#4D4D4D" text-anchor="end">5.0</text>
<line x1="56.9" y1="897.5" x2="61" y2="897.5" stroke="#333333" stroke-width="1.07"/>
<text x="54.0" y="902.5" font-size="12.8" fill="#4D4D4D" text-anchor="end">7.5</text>
<line x1="56.9" y1="875.5" x2="61" y2="875.5" stroke="#333333" stroke-width="1.07"/>
<text x="54.0" y="880.5" font-size="12.8" fill="#4D4D4D" text-anchor="end">10.0</text>
<line x1="56.9" y1="853.5" x2="61" y2="853.5" stroke="#333333" stroke-width="1.07"/>
<text x="54.0" y="858.5" font-size="12.8" fill="#4D4D4D" text-anchor="end">12.5</text>
<text transform="translate(11.9,910.3499999999999) rotate(-90)" font-size="15.9" fill="#000" text-anchor="middle">Ready</text>
<text x="480.3" y="997.8" font-size="15.9" fill="#000" text-anchor="middle">Time [ms]</text>
</svg></body></html>
